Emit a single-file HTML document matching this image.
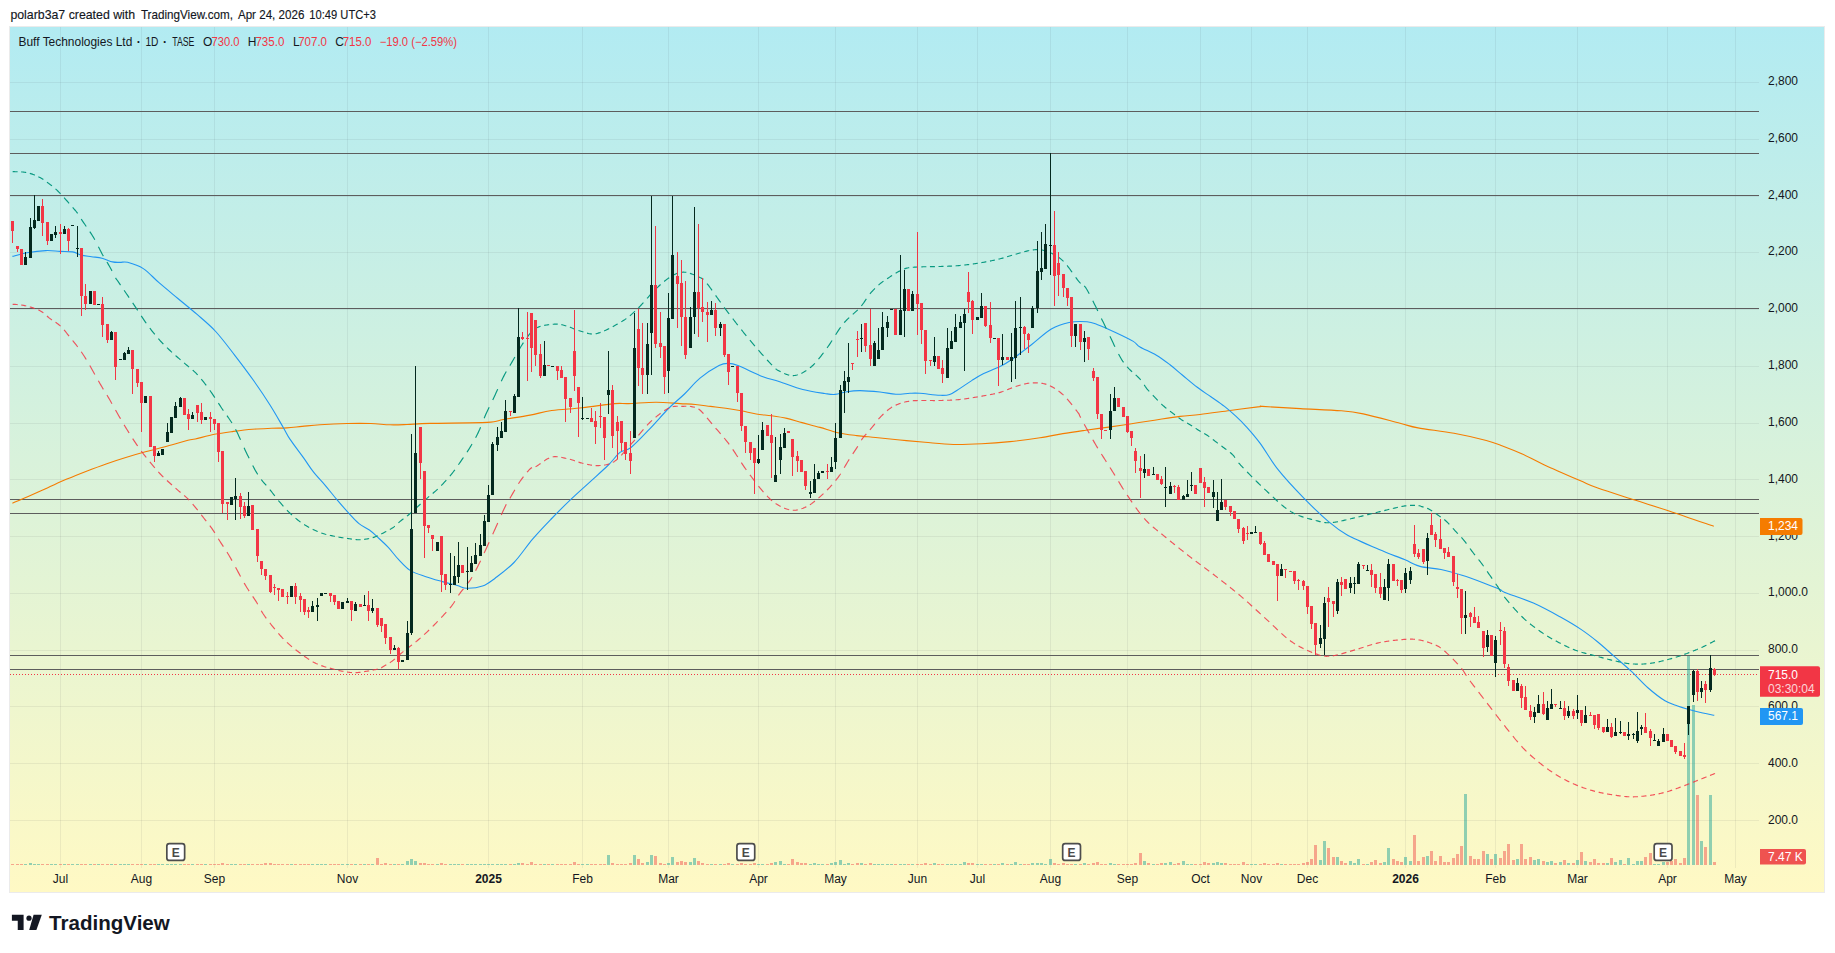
<!DOCTYPE html>
<html><head><meta charset="utf-8"><title>Buff Technologies Ltd chart</title>
<style>html,body{margin:0;padding:0;background:#fff;width:1835px;height:953px;overflow:hidden}</style>
</head><body>
<svg width="1835" height="953" viewBox="0 0 1835 953" style="position:absolute;left:0;top:0"><defs><linearGradient id="bg" x1="0" y1="0" x2="0" y2="1"><stop offset="0" stop-color="#b2ebf2"/><stop offset="1" stop-color="#fff9c4"/></linearGradient><clipPath id="pane"><rect x="10" y="27" width="1749" height="841"/></clipPath></defs><rect x="9.5" y="26.5" width="1815" height="866" fill="none" stroke="rgba(0,0,0,0.08)" stroke-width="1"/><rect x="10" y="27" width="1814" height="865" fill="url(#bg)"/><g stroke="rgba(42,46,57,0.07)" stroke-width="1" shape-rendering="crispEdges"><line x1="10" y1="82.5" x2="1759" y2="82.5"/><line x1="10" y1="139.5" x2="1759" y2="139.5"/><line x1="10" y1="196.5" x2="1759" y2="196.5"/><line x1="10" y1="252.5" x2="1759" y2="252.5"/><line x1="10" y1="309.5" x2="1759" y2="309.5"/><line x1="10" y1="366.5" x2="1759" y2="366.5"/><line x1="10" y1="423.5" x2="1759" y2="423.5"/><line x1="10" y1="479.5" x2="1759" y2="479.5"/><line x1="10" y1="536.5" x2="1759" y2="536.5"/><line x1="10" y1="593.5" x2="1759" y2="593.5"/><line x1="10" y1="650.5" x2="1759" y2="650.5"/><line x1="10" y1="706.5" x2="1759" y2="706.5"/><line x1="10" y1="763.5" x2="1759" y2="763.5"/><line x1="10" y1="820.5" x2="1759" y2="820.5"/><line x1="60.5" y1="27" x2="60.5" y2="868"/><line x1="141.5" y1="27" x2="141.5" y2="868"/><line x1="214.5" y1="27" x2="214.5" y2="868"/><line x1="347.5" y1="27" x2="347.5" y2="868"/><line x1="488.5" y1="27" x2="488.5" y2="868"/><line x1="582.5" y1="27" x2="582.5" y2="868"/><line x1="668.5" y1="27" x2="668.5" y2="868"/><line x1="758.5" y1="27" x2="758.5" y2="868"/><line x1="835.5" y1="27" x2="835.5" y2="868"/><line x1="917.5" y1="27" x2="917.5" y2="868"/><line x1="977.5" y1="27" x2="977.5" y2="868"/><line x1="1050.5" y1="27" x2="1050.5" y2="868"/><line x1="1127.5" y1="27" x2="1127.5" y2="868"/><line x1="1200.5" y1="27" x2="1200.5" y2="868"/><line x1="1251.5" y1="27" x2="1251.5" y2="868"/><line x1="1307.5" y1="27" x2="1307.5" y2="868"/><line x1="1405.5" y1="27" x2="1405.5" y2="868"/><line x1="1495.5" y1="27" x2="1495.5" y2="868"/><line x1="1577.5" y1="27" x2="1577.5" y2="868"/><line x1="1667.5" y1="27" x2="1667.5" y2="868"/><line x1="1735.5" y1="27" x2="1735.5" y2="868"/></g><g stroke="#5d5d5d" stroke-width="1" shape-rendering="crispEdges"><line x1="10" y1="111.5" x2="1759" y2="111.5"/><line x1="10" y1="153.5" x2="1759" y2="153.5"/><line x1="10" y1="195.5" x2="1759" y2="195.5"/><line x1="10" y1="308.5" x2="1759" y2="308.5"/><line x1="10" y1="499.5" x2="1759" y2="499.5"/><line x1="10" y1="513.5" x2="1759" y2="513.5"/><line x1="10" y1="655.5" x2="1759" y2="655.5"/><line x1="10" y1="669.5" x2="1759" y2="669.5"/></g><line x1="10" y1="674.5" x2="1759" y2="674.5" stroke="#f23645" stroke-width="1" stroke-dasharray="1 2" shape-rendering="crispEdges"/><g shape-rendering="crispEdges"><rect x="11" y="864.0" width="3" height="1.0" fill="rgba(239,83,80,0.5)"/><rect x="16" y="864.0" width="3" height="1.0" fill="rgba(239,83,80,0.5)"/><rect x="20" y="864.0" width="3" height="1.0" fill="rgba(239,83,80,0.5)"/><rect x="24" y="864.0" width="3" height="1.0" fill="rgba(38,166,154,0.5)"/><rect x="29" y="863.0" width="3" height="2.0" fill="rgba(38,166,154,0.5)"/><rect x="33" y="864.0" width="3" height="1.0" fill="rgba(38,166,154,0.5)"/><rect x="37" y="864.0" width="3" height="1.0" fill="rgba(38,166,154,0.5)"/><rect x="41" y="864.0" width="3" height="1.0" fill="rgba(239,83,80,0.5)"/><rect x="46" y="864.0" width="3" height="1.0" fill="rgba(239,83,80,0.5)"/><rect x="50" y="864.0" width="3" height="1.0" fill="rgba(38,166,154,0.5)"/><rect x="54" y="864.0" width="3" height="1.0" fill="rgba(38,166,154,0.5)"/><rect x="59" y="864.0" width="3" height="1.0" fill="rgba(239,83,80,0.5)"/><rect x="63" y="864.0" width="3" height="1.0" fill="rgba(38,166,154,0.5)"/><rect x="67" y="864.0" width="3" height="1.0" fill="rgba(239,83,80,0.5)"/><rect x="71" y="864.0" width="3" height="1.0" fill="rgba(38,166,154,0.5)"/><rect x="76" y="864.0" width="3" height="1.0" fill="rgba(38,166,154,0.5)"/><rect x="80" y="864.0" width="3" height="1.0" fill="rgba(239,83,80,0.5)"/><rect x="84" y="864.0" width="3" height="1.0" fill="rgba(239,83,80,0.5)"/><rect x="89" y="864.0" width="3" height="1.0" fill="rgba(38,166,154,0.5)"/><rect x="93" y="864.0" width="3" height="1.0" fill="rgba(239,83,80,0.5)"/><rect x="97" y="864.0" width="3" height="1.0" fill="rgba(38,166,154,0.5)"/><rect x="101" y="864.0" width="3" height="1.0" fill="rgba(239,83,80,0.5)"/><rect x="106" y="864.0" width="3" height="1.0" fill="rgba(239,83,80,0.5)"/><rect x="110" y="864.0" width="3" height="1.0" fill="rgba(38,166,154,0.5)"/><rect x="114" y="864.0" width="3" height="1.0" fill="rgba(239,83,80,0.5)"/><rect x="119" y="864.0" width="3" height="1.0" fill="rgba(38,166,154,0.5)"/><rect x="123" y="864.0" width="3" height="1.0" fill="rgba(38,166,154,0.5)"/><rect x="127" y="864.0" width="3" height="1.0" fill="rgba(38,166,154,0.5)"/><rect x="131" y="864.0" width="3" height="1.0" fill="rgba(239,83,80,0.5)"/><rect x="136" y="864.0" width="3" height="1.0" fill="rgba(239,83,80,0.5)"/><rect x="140" y="864.0" width="3" height="1.0" fill="rgba(239,83,80,0.5)"/><rect x="144" y="864.0" width="3" height="1.0" fill="rgba(38,166,154,0.5)"/><rect x="149" y="864.0" width="3" height="1.0" fill="rgba(239,83,80,0.5)"/><rect x="153" y="864.0" width="3" height="1.0" fill="rgba(239,83,80,0.5)"/><rect x="157" y="864.0" width="3" height="1.0" fill="rgba(38,166,154,0.5)"/><rect x="161" y="864.0" width="3" height="1.0" fill="rgba(38,166,154,0.5)"/><rect x="166" y="864.0" width="3" height="1.0" fill="rgba(38,166,154,0.5)"/><rect x="170" y="864.0" width="3" height="1.0" fill="rgba(38,166,154,0.5)"/><rect x="174" y="864.0" width="3" height="1.0" fill="rgba(38,166,154,0.5)"/><rect x="179" y="864.0" width="3" height="1.0" fill="rgba(38,166,154,0.5)"/><rect x="183" y="864.0" width="3" height="1.0" fill="rgba(239,83,80,0.5)"/><rect x="187" y="864.0" width="3" height="1.0" fill="rgba(239,83,80,0.5)"/><rect x="191" y="864.0" width="3" height="1.0" fill="rgba(38,166,154,0.5)"/><rect x="196" y="864.0" width="3" height="1.0" fill="rgba(239,83,80,0.5)"/><rect x="200" y="864.0" width="3" height="1.0" fill="rgba(239,83,80,0.5)"/><rect x="204" y="864.0" width="3" height="1.0" fill="rgba(38,166,154,0.5)"/><rect x="209" y="864.0" width="3" height="1.0" fill="rgba(239,83,80,0.5)"/><rect x="213" y="864.0" width="3" height="1.0" fill="rgba(239,83,80,0.5)"/><rect x="217" y="864.0" width="3" height="1.0" fill="rgba(239,83,80,0.5)"/><rect x="221" y="863.0" width="3" height="2.0" fill="rgba(239,83,80,0.5)"/><rect x="226" y="864.0" width="3" height="1.0" fill="rgba(239,83,80,0.5)"/><rect x="230" y="864.0" width="3" height="1.0" fill="rgba(38,166,154,0.5)"/><rect x="234" y="864.0" width="3" height="1.0" fill="rgba(38,166,154,0.5)"/><rect x="239" y="864.0" width="3" height="1.0" fill="rgba(239,83,80,0.5)"/><rect x="243" y="864.0" width="3" height="1.0" fill="rgba(239,83,80,0.5)"/><rect x="247" y="864.0" width="3" height="1.0" fill="rgba(38,166,154,0.5)"/><rect x="251" y="864.0" width="3" height="1.0" fill="rgba(239,83,80,0.5)"/><rect x="256" y="864.0" width="3" height="1.0" fill="rgba(239,83,80,0.5)"/><rect x="260" y="864.0" width="3" height="1.0" fill="rgba(239,83,80,0.5)"/><rect x="264" y="863.0" width="3" height="2.0" fill="rgba(239,83,80,0.5)"/><rect x="269" y="863.0" width="3" height="2.0" fill="rgba(239,83,80,0.5)"/><rect x="273" y="864.0" width="3" height="1.0" fill="rgba(239,83,80,0.5)"/><rect x="277" y="864.0" width="3" height="1.0" fill="rgba(239,83,80,0.5)"/><rect x="281" y="864.0" width="3" height="1.0" fill="rgba(239,83,80,0.5)"/><rect x="286" y="864.0" width="3" height="1.0" fill="rgba(239,83,80,0.5)"/><rect x="290" y="864.0" width="3" height="1.0" fill="rgba(38,166,154,0.5)"/><rect x="294" y="864.0" width="3" height="1.0" fill="rgba(239,83,80,0.5)"/><rect x="299" y="864.0" width="3" height="1.0" fill="rgba(239,83,80,0.5)"/><rect x="303" y="864.0" width="3" height="1.0" fill="rgba(239,83,80,0.5)"/><rect x="307" y="864.0" width="3" height="1.0" fill="rgba(239,83,80,0.5)"/><rect x="311" y="864.0" width="3" height="1.0" fill="rgba(38,166,154,0.5)"/><rect x="316" y="864.0" width="3" height="1.0" fill="rgba(38,166,154,0.5)"/><rect x="320" y="864.0" width="3" height="1.0" fill="rgba(38,166,154,0.5)"/><rect x="324" y="864.0" width="3" height="1.0" fill="rgba(38,166,154,0.5)"/><rect x="329" y="864.0" width="3" height="1.0" fill="rgba(239,83,80,0.5)"/><rect x="333" y="864.0" width="3" height="1.0" fill="rgba(239,83,80,0.5)"/><rect x="337" y="864.0" width="3" height="1.0" fill="rgba(239,83,80,0.5)"/><rect x="341" y="864.0" width="3" height="1.0" fill="rgba(38,166,154,0.5)"/><rect x="346" y="864.0" width="3" height="1.0" fill="rgba(38,166,154,0.5)"/><rect x="350" y="864.0" width="3" height="1.0" fill="rgba(239,83,80,0.5)"/><rect x="354" y="864.0" width="3" height="1.0" fill="rgba(38,166,154,0.5)"/><rect x="359" y="864.0" width="3" height="1.0" fill="rgba(239,83,80,0.5)"/><rect x="363" y="864.0" width="3" height="1.0" fill="rgba(38,166,154,0.5)"/><rect x="367" y="864.0" width="3" height="1.0" fill="rgba(239,83,80,0.5)"/><rect x="371" y="864.0" width="3" height="1.0" fill="rgba(38,166,154,0.5)"/><rect x="376" y="858.0" width="3" height="7.0" fill="rgba(239,83,80,0.5)"/><rect x="380" y="864.0" width="3" height="1.0" fill="rgba(239,83,80,0.5)"/><rect x="384" y="863.0" width="3" height="2.0" fill="rgba(239,83,80,0.5)"/><rect x="389" y="864.0" width="3" height="1.0" fill="rgba(239,83,80,0.5)"/><rect x="393" y="864.0" width="3" height="1.0" fill="rgba(38,166,154,0.5)"/><rect x="397" y="864.0" width="3" height="1.0" fill="rgba(239,83,80,0.5)"/><rect x="401" y="864.0" width="3" height="1.0" fill="rgba(38,166,154,0.5)"/><rect x="406" y="861.0" width="3" height="4.0" fill="rgba(38,166,154,0.5)"/><rect x="410" y="859.0" width="3" height="6.0" fill="rgba(38,166,154,0.5)"/><rect x="414" y="861.0" width="3" height="4.0" fill="rgba(38,166,154,0.5)"/><rect x="419" y="863.0" width="3" height="2.0" fill="rgba(239,83,80,0.5)"/><rect x="423" y="863.0" width="3" height="2.0" fill="rgba(239,83,80,0.5)"/><rect x="427" y="864.0" width="3" height="1.0" fill="rgba(239,83,80,0.5)"/><rect x="431" y="864.0" width="3" height="1.0" fill="rgba(239,83,80,0.5)"/><rect x="436" y="864.0" width="3" height="1.0" fill="rgba(38,166,154,0.5)"/><rect x="440" y="863.0" width="3" height="2.0" fill="rgba(239,83,80,0.5)"/><rect x="444" y="864.0" width="3" height="1.0" fill="rgba(239,83,80,0.5)"/><rect x="449" y="864.0" width="3" height="1.0" fill="rgba(38,166,154,0.5)"/><rect x="453" y="864.0" width="3" height="1.0" fill="rgba(38,166,154,0.5)"/><rect x="457" y="864.0" width="3" height="1.0" fill="rgba(38,166,154,0.5)"/><rect x="461" y="864.0" width="3" height="1.0" fill="rgba(239,83,80,0.5)"/><rect x="466" y="864.0" width="3" height="1.0" fill="rgba(38,166,154,0.5)"/><rect x="470" y="864.0" width="3" height="1.0" fill="rgba(38,166,154,0.5)"/><rect x="474" y="864.0" width="3" height="1.0" fill="rgba(38,166,154,0.5)"/><rect x="479" y="864.0" width="3" height="1.0" fill="rgba(38,166,154,0.5)"/><rect x="483" y="864.0" width="3" height="1.0" fill="rgba(38,166,154,0.5)"/><rect x="487" y="864.0" width="3" height="1.0" fill="rgba(38,166,154,0.5)"/><rect x="491" y="864.0" width="3" height="1.0" fill="rgba(38,166,154,0.5)"/><rect x="496" y="864.0" width="3" height="1.0" fill="rgba(38,166,154,0.5)"/><rect x="500" y="864.0" width="3" height="1.0" fill="rgba(38,166,154,0.5)"/><rect x="504" y="864.0" width="3" height="1.0" fill="rgba(38,166,154,0.5)"/><rect x="509" y="864.0" width="3" height="1.0" fill="rgba(239,83,80,0.5)"/><rect x="513" y="864.0" width="3" height="1.0" fill="rgba(38,166,154,0.5)"/><rect x="517" y="863.0" width="3" height="2.0" fill="rgba(38,166,154,0.5)"/><rect x="521" y="863.0" width="3" height="2.0" fill="rgba(239,83,80,0.5)"/><rect x="526" y="864.0" width="3" height="1.0" fill="rgba(239,83,80,0.5)"/><rect x="530" y="862.0" width="3" height="3.0" fill="rgba(239,83,80,0.5)"/><rect x="534" y="864.0" width="3" height="1.0" fill="rgba(239,83,80,0.5)"/><rect x="539" y="864.0" width="3" height="1.0" fill="rgba(239,83,80,0.5)"/><rect x="543" y="864.0" width="3" height="1.0" fill="rgba(38,166,154,0.5)"/><rect x="547" y="864.0" width="3" height="1.0" fill="rgba(239,83,80,0.5)"/><rect x="551" y="864.0" width="3" height="1.0" fill="rgba(38,166,154,0.5)"/><rect x="556" y="864.0" width="3" height="1.0" fill="rgba(239,83,80,0.5)"/><rect x="560" y="864.0" width="3" height="1.0" fill="rgba(239,83,80,0.5)"/><rect x="564" y="864.0" width="3" height="1.0" fill="rgba(239,83,80,0.5)"/><rect x="569" y="864.0" width="3" height="1.0" fill="rgba(239,83,80,0.5)"/><rect x="573" y="862.0" width="3" height="3.0" fill="rgba(239,83,80,0.5)"/><rect x="577" y="864.0" width="3" height="1.0" fill="rgba(239,83,80,0.5)"/><rect x="581" y="864.0" width="3" height="1.0" fill="rgba(38,166,154,0.5)"/><rect x="586" y="864.0" width="3" height="1.0" fill="rgba(38,166,154,0.5)"/><rect x="590" y="864.0" width="3" height="1.0" fill="rgba(239,83,80,0.5)"/><rect x="594" y="864.0" width="3" height="1.0" fill="rgba(239,83,80,0.5)"/><rect x="599" y="864.0" width="3" height="1.0" fill="rgba(239,83,80,0.5)"/><rect x="603" y="864.0" width="3" height="1.0" fill="rgba(239,83,80,0.5)"/><rect x="607" y="855.0" width="3" height="10.0" fill="rgba(38,166,154,0.5)"/><rect x="611" y="863.0" width="3" height="2.0" fill="rgba(239,83,80,0.5)"/><rect x="616" y="864.0" width="3" height="1.0" fill="rgba(239,83,80,0.5)"/><rect x="620" y="864.0" width="3" height="1.0" fill="rgba(239,83,80,0.5)"/><rect x="624" y="864.0" width="3" height="1.0" fill="rgba(239,83,80,0.5)"/><rect x="629" y="863.0" width="3" height="2.0" fill="rgba(239,83,80,0.5)"/><rect x="633" y="855.0" width="3" height="10.0" fill="rgba(38,166,154,0.5)"/><rect x="637" y="859.0" width="3" height="6.0" fill="rgba(239,83,80,0.5)"/><rect x="641" y="863.0" width="3" height="2.0" fill="rgba(239,83,80,0.5)"/><rect x="646" y="862.0" width="3" height="3.0" fill="rgba(38,166,154,0.5)"/><rect x="650" y="855.0" width="3" height="10.0" fill="rgba(38,166,154,0.5)"/><rect x="654" y="856.0" width="3" height="9.0" fill="rgba(239,83,80,0.5)"/><rect x="659" y="863.0" width="3" height="2.0" fill="rgba(239,83,80,0.5)"/><rect x="663" y="864.0" width="3" height="1.0" fill="rgba(239,83,80,0.5)"/><rect x="667" y="863.0" width="3" height="2.0" fill="rgba(38,166,154,0.5)"/><rect x="671" y="857.0" width="3" height="8.0" fill="rgba(38,166,154,0.5)"/><rect x="676" y="862.0" width="3" height="3.0" fill="rgba(239,83,80,0.5)"/><rect x="680" y="861.0" width="3" height="4.0" fill="rgba(239,83,80,0.5)"/><rect x="684" y="862.0" width="3" height="3.0" fill="rgba(239,83,80,0.5)"/><rect x="689" y="862.0" width="3" height="3.0" fill="rgba(38,166,154,0.5)"/><rect x="693" y="858.0" width="3" height="7.0" fill="rgba(38,166,154,0.5)"/><rect x="697" y="861.0" width="3" height="4.0" fill="rgba(239,83,80,0.5)"/><rect x="701" y="863.0" width="3" height="2.0" fill="rgba(239,83,80,0.5)"/><rect x="706" y="864.0" width="3" height="1.0" fill="rgba(239,83,80,0.5)"/><rect x="710" y="864.0" width="3" height="1.0" fill="rgba(38,166,154,0.5)"/><rect x="714" y="864.0" width="3" height="1.0" fill="rgba(239,83,80,0.5)"/><rect x="719" y="864.0" width="3" height="1.0" fill="rgba(38,166,154,0.5)"/><rect x="723" y="864.0" width="3" height="1.0" fill="rgba(239,83,80,0.5)"/><rect x="727" y="863.0" width="3" height="2.0" fill="rgba(239,83,80,0.5)"/><rect x="731" y="864.0" width="3" height="1.0" fill="rgba(38,166,154,0.5)"/><rect x="736" y="864.0" width="3" height="1.0" fill="rgba(239,83,80,0.5)"/><rect x="740" y="863.0" width="3" height="2.0" fill="rgba(239,83,80,0.5)"/><rect x="744" y="864.0" width="3" height="1.0" fill="rgba(239,83,80,0.5)"/><rect x="749" y="864.0" width="3" height="1.0" fill="rgba(239,83,80,0.5)"/><rect x="753" y="863.0" width="3" height="2.0" fill="rgba(239,83,80,0.5)"/><rect x="757" y="864.0" width="3" height="1.0" fill="rgba(38,166,154,0.5)"/><rect x="761" y="864.0" width="3" height="1.0" fill="rgba(38,166,154,0.5)"/><rect x="766" y="864.0" width="3" height="1.0" fill="rgba(239,83,80,0.5)"/><rect x="770" y="863.0" width="3" height="2.0" fill="rgba(239,83,80,0.5)"/><rect x="774" y="862.0" width="3" height="3.0" fill="rgba(38,166,154,0.5)"/><rect x="779" y="861.0" width="3" height="4.0" fill="rgba(38,166,154,0.5)"/><rect x="783" y="864.0" width="3" height="1.0" fill="rgba(38,166,154,0.5)"/><rect x="787" y="864.0" width="3" height="1.0" fill="rgba(239,83,80,0.5)"/><rect x="791" y="859.0" width="3" height="6.0" fill="rgba(239,83,80,0.5)"/><rect x="796" y="862.0" width="3" height="3.0" fill="rgba(239,83,80,0.5)"/><rect x="800" y="863.0" width="3" height="2.0" fill="rgba(239,83,80,0.5)"/><rect x="804" y="863.0" width="3" height="2.0" fill="rgba(239,83,80,0.5)"/><rect x="809" y="864.0" width="3" height="1.0" fill="rgba(38,166,154,0.5)"/><rect x="813" y="863.0" width="3" height="2.0" fill="rgba(38,166,154,0.5)"/><rect x="817" y="864.0" width="3" height="1.0" fill="rgba(38,166,154,0.5)"/><rect x="821" y="864.0" width="3" height="1.0" fill="rgba(38,166,154,0.5)"/><rect x="826" y="864.0" width="3" height="1.0" fill="rgba(239,83,80,0.5)"/><rect x="830" y="863.0" width="3" height="2.0" fill="rgba(38,166,154,0.5)"/><rect x="834" y="862.0" width="3" height="3.0" fill="rgba(38,166,154,0.5)"/><rect x="839" y="860.0" width="3" height="5.0" fill="rgba(38,166,154,0.5)"/><rect x="843" y="864.0" width="3" height="1.0" fill="rgba(38,166,154,0.5)"/><rect x="847" y="863.0" width="3" height="2.0" fill="rgba(38,166,154,0.5)"/><rect x="851" y="864.0" width="3" height="1.0" fill="rgba(239,83,80,0.5)"/><rect x="856" y="863.0" width="3" height="2.0" fill="rgba(239,83,80,0.5)"/><rect x="860" y="863.0" width="3" height="2.0" fill="rgba(38,166,154,0.5)"/><rect x="864" y="864.0" width="3" height="1.0" fill="rgba(239,83,80,0.5)"/><rect x="869" y="863.0" width="3" height="2.0" fill="rgba(239,83,80,0.5)"/><rect x="873" y="864.0" width="3" height="1.0" fill="rgba(38,166,154,0.5)"/><rect x="877" y="864.0" width="3" height="1.0" fill="rgba(38,166,154,0.5)"/><rect x="881" y="864.0" width="3" height="1.0" fill="rgba(38,166,154,0.5)"/><rect x="886" y="864.0" width="3" height="1.0" fill="rgba(38,166,154,0.5)"/><rect x="890" y="864.0" width="3" height="1.0" fill="rgba(38,166,154,0.5)"/><rect x="894" y="864.0" width="3" height="1.0" fill="rgba(239,83,80,0.5)"/><rect x="899" y="864.0" width="3" height="1.0" fill="rgba(38,166,154,0.5)"/><rect x="903" y="864.0" width="3" height="1.0" fill="rgba(38,166,154,0.5)"/><rect x="907" y="864.0" width="3" height="1.0" fill="rgba(239,83,80,0.5)"/><rect x="911" y="864.0" width="3" height="1.0" fill="rgba(38,166,154,0.5)"/><rect x="916" y="864.0" width="3" height="1.0" fill="rgba(239,83,80,0.5)"/><rect x="920" y="864.0" width="3" height="1.0" fill="rgba(239,83,80,0.5)"/><rect x="924" y="863.0" width="3" height="2.0" fill="rgba(239,83,80,0.5)"/><rect x="929" y="864.0" width="3" height="1.0" fill="rgba(239,83,80,0.5)"/><rect x="933" y="863.0" width="3" height="2.0" fill="rgba(38,166,154,0.5)"/><rect x="937" y="864.0" width="3" height="1.0" fill="rgba(239,83,80,0.5)"/><rect x="941" y="864.0" width="3" height="1.0" fill="rgba(239,83,80,0.5)"/><rect x="946" y="864.0" width="3" height="1.0" fill="rgba(38,166,154,0.5)"/><rect x="950" y="864.0" width="3" height="1.0" fill="rgba(38,166,154,0.5)"/><rect x="954" y="864.0" width="3" height="1.0" fill="rgba(38,166,154,0.5)"/><rect x="959" y="864.0" width="3" height="1.0" fill="rgba(38,166,154,0.5)"/><rect x="963" y="862.0" width="3" height="3.0" fill="rgba(38,166,154,0.5)"/><rect x="967" y="863.0" width="3" height="2.0" fill="rgba(239,83,80,0.5)"/><rect x="971" y="863.0" width="3" height="2.0" fill="rgba(239,83,80,0.5)"/><rect x="976" y="864.0" width="3" height="1.0" fill="rgba(38,166,154,0.5)"/><rect x="980" y="864.0" width="3" height="1.0" fill="rgba(38,166,154,0.5)"/><rect x="984" y="864.0" width="3" height="1.0" fill="rgba(239,83,80,0.5)"/><rect x="989" y="864.0" width="3" height="1.0" fill="rgba(239,83,80,0.5)"/><rect x="993" y="864.0" width="3" height="1.0" fill="rgba(38,166,154,0.5)"/><rect x="997" y="864.0" width="3" height="1.0" fill="rgba(239,83,80,0.5)"/><rect x="1001" y="863.0" width="3" height="2.0" fill="rgba(38,166,154,0.5)"/><rect x="1006" y="864.0" width="3" height="1.0" fill="rgba(239,83,80,0.5)"/><rect x="1010" y="864.0" width="3" height="1.0" fill="rgba(38,166,154,0.5)"/><rect x="1014" y="862.0" width="3" height="3.0" fill="rgba(38,166,154,0.5)"/><rect x="1019" y="864.0" width="3" height="1.0" fill="rgba(38,166,154,0.5)"/><rect x="1023" y="864.0" width="3" height="1.0" fill="rgba(239,83,80,0.5)"/><rect x="1027" y="864.0" width="3" height="1.0" fill="rgba(239,83,80,0.5)"/><rect x="1031" y="863.0" width="3" height="2.0" fill="rgba(38,166,154,0.5)"/><rect x="1036" y="863.0" width="3" height="2.0" fill="rgba(38,166,154,0.5)"/><rect x="1040" y="863.0" width="3" height="2.0" fill="rgba(38,166,154,0.5)"/><rect x="1044" y="864.0" width="3" height="1.0" fill="rgba(38,166,154,0.5)"/><rect x="1049" y="859.0" width="3" height="6.0" fill="rgba(38,166,154,0.5)"/><rect x="1053" y="863.0" width="3" height="2.0" fill="rgba(239,83,80,0.5)"/><rect x="1057" y="864.0" width="3" height="1.0" fill="rgba(239,83,80,0.5)"/><rect x="1062" y="863.0" width="3" height="2.0" fill="rgba(239,83,80,0.5)"/><rect x="1066" y="864.0" width="3" height="1.0" fill="rgba(239,83,80,0.5)"/><rect x="1070" y="864.0" width="3" height="1.0" fill="rgba(239,83,80,0.5)"/><rect x="1074" y="864.0" width="3" height="1.0" fill="rgba(38,166,154,0.5)"/><rect x="1079" y="864.0" width="3" height="1.0" fill="rgba(239,83,80,0.5)"/><rect x="1083" y="863.0" width="3" height="2.0" fill="rgba(38,166,154,0.5)"/><rect x="1087" y="864.0" width="3" height="1.0" fill="rgba(239,83,80,0.5)"/><rect x="1092" y="863.0" width="3" height="2.0" fill="rgba(239,83,80,0.5)"/><rect x="1096" y="862.0" width="3" height="3.0" fill="rgba(239,83,80,0.5)"/><rect x="1100" y="864.0" width="3" height="1.0" fill="rgba(239,83,80,0.5)"/><rect x="1104" y="864.0" width="3" height="1.0" fill="rgba(239,83,80,0.5)"/><rect x="1109" y="863.0" width="3" height="2.0" fill="rgba(38,166,154,0.5)"/><rect x="1113" y="864.0" width="3" height="1.0" fill="rgba(38,166,154,0.5)"/><rect x="1117" y="864.0" width="3" height="1.0" fill="rgba(239,83,80,0.5)"/><rect x="1122" y="864.0" width="3" height="1.0" fill="rgba(239,83,80,0.5)"/><rect x="1126" y="864.0" width="3" height="1.0" fill="rgba(239,83,80,0.5)"/><rect x="1130" y="864.0" width="3" height="1.0" fill="rgba(239,83,80,0.5)"/><rect x="1134" y="863.0" width="3" height="2.0" fill="rgba(239,83,80,0.5)"/><rect x="1139" y="853.0" width="3" height="12.0" fill="rgba(239,83,80,0.5)"/><rect x="1143" y="861.0" width="3" height="4.0" fill="rgba(38,166,154,0.5)"/><rect x="1147" y="863.0" width="3" height="2.0" fill="rgba(239,83,80,0.5)"/><rect x="1152" y="864.0" width="3" height="1.0" fill="rgba(38,166,154,0.5)"/><rect x="1156" y="864.0" width="3" height="1.0" fill="rgba(239,83,80,0.5)"/><rect x="1160" y="863.0" width="3" height="2.0" fill="rgba(239,83,80,0.5)"/><rect x="1164" y="863.0" width="3" height="2.0" fill="rgba(38,166,154,0.5)"/><rect x="1169" y="862.0" width="3" height="3.0" fill="rgba(38,166,154,0.5)"/><rect x="1173" y="864.0" width="3" height="1.0" fill="rgba(239,83,80,0.5)"/><rect x="1177" y="863.0" width="3" height="2.0" fill="rgba(239,83,80,0.5)"/><rect x="1182" y="861.0" width="3" height="4.0" fill="rgba(38,166,154,0.5)"/><rect x="1186" y="864.0" width="3" height="1.0" fill="rgba(38,166,154,0.5)"/><rect x="1190" y="864.0" width="3" height="1.0" fill="rgba(38,166,154,0.5)"/><rect x="1194" y="864.0" width="3" height="1.0" fill="rgba(239,83,80,0.5)"/><rect x="1199" y="864.0" width="3" height="1.0" fill="rgba(239,83,80,0.5)"/><rect x="1203" y="862.0" width="3" height="3.0" fill="rgba(239,83,80,0.5)"/><rect x="1207" y="863.0" width="3" height="2.0" fill="rgba(239,83,80,0.5)"/><rect x="1212" y="863.0" width="3" height="2.0" fill="rgba(38,166,154,0.5)"/><rect x="1216" y="862.0" width="3" height="3.0" fill="rgba(38,166,154,0.5)"/><rect x="1220" y="863.0" width="3" height="2.0" fill="rgba(38,166,154,0.5)"/><rect x="1224" y="863.0" width="3" height="2.0" fill="rgba(239,83,80,0.5)"/><rect x="1229" y="864.0" width="3" height="1.0" fill="rgba(239,83,80,0.5)"/><rect x="1233" y="864.0" width="3" height="1.0" fill="rgba(239,83,80,0.5)"/><rect x="1237" y="864.0" width="3" height="1.0" fill="rgba(239,83,80,0.5)"/><rect x="1242" y="862.0" width="3" height="3.0" fill="rgba(239,83,80,0.5)"/><rect x="1246" y="864.0" width="3" height="1.0" fill="rgba(239,83,80,0.5)"/><rect x="1250" y="864.0" width="3" height="1.0" fill="rgba(38,166,154,0.5)"/><rect x="1254" y="864.0" width="3" height="1.0" fill="rgba(38,166,154,0.5)"/><rect x="1259" y="864.0" width="3" height="1.0" fill="rgba(239,83,80,0.5)"/><rect x="1263" y="863.0" width="3" height="2.0" fill="rgba(239,83,80,0.5)"/><rect x="1267" y="864.0" width="3" height="1.0" fill="rgba(239,83,80,0.5)"/><rect x="1272" y="864.0" width="3" height="1.0" fill="rgba(239,83,80,0.5)"/><rect x="1276" y="863.0" width="3" height="2.0" fill="rgba(239,83,80,0.5)"/><rect x="1280" y="864.0" width="3" height="1.0" fill="rgba(38,166,154,0.5)"/><rect x="1284" y="864.0" width="3" height="1.0" fill="rgba(239,83,80,0.5)"/><rect x="1289" y="864.0" width="3" height="1.0" fill="rgba(239,83,80,0.5)"/><rect x="1293" y="864.0" width="3" height="1.0" fill="rgba(239,83,80,0.5)"/><rect x="1297" y="864.0" width="3" height="1.0" fill="rgba(239,83,80,0.5)"/><rect x="1302" y="863.0" width="3" height="2.0" fill="rgba(239,83,80,0.5)"/><rect x="1306" y="862.0" width="3" height="3.0" fill="rgba(239,83,80,0.5)"/><rect x="1310" y="859.0" width="3" height="6.0" fill="rgba(239,83,80,0.5)"/><rect x="1314" y="845.0" width="3" height="20.0" fill="rgba(239,83,80,0.5)"/><rect x="1319" y="860.0" width="3" height="5.0" fill="rgba(38,166,154,0.5)"/><rect x="1323" y="841.0" width="3" height="24.0" fill="rgba(38,166,154,0.5)"/><rect x="1327" y="848.0" width="3" height="17.0" fill="rgba(239,83,80,0.5)"/><rect x="1332" y="857.0" width="3" height="8.0" fill="rgba(239,83,80,0.5)"/><rect x="1336" y="857.0" width="3" height="8.0" fill="rgba(38,166,154,0.5)"/><rect x="1340" y="861.0" width="3" height="4.0" fill="rgba(239,83,80,0.5)"/><rect x="1344" y="863.0" width="3" height="2.0" fill="rgba(239,83,80,0.5)"/><rect x="1349" y="861.0" width="3" height="4.0" fill="rgba(38,166,154,0.5)"/><rect x="1353" y="863.0" width="3" height="2.0" fill="rgba(38,166,154,0.5)"/><rect x="1357" y="859.0" width="3" height="6.0" fill="rgba(38,166,154,0.5)"/><rect x="1362" y="864.0" width="3" height="1.0" fill="rgba(239,83,80,0.5)"/><rect x="1366" y="864.0" width="3" height="1.0" fill="rgba(38,166,154,0.5)"/><rect x="1370" y="862.0" width="3" height="3.0" fill="rgba(239,83,80,0.5)"/><rect x="1374" y="860.0" width="3" height="5.0" fill="rgba(239,83,80,0.5)"/><rect x="1379" y="863.0" width="3" height="2.0" fill="rgba(239,83,80,0.5)"/><rect x="1383" y="862.0" width="3" height="3.0" fill="rgba(38,166,154,0.5)"/><rect x="1387" y="848.0" width="3" height="17.0" fill="rgba(38,166,154,0.5)"/><rect x="1392" y="859.0" width="3" height="6.0" fill="rgba(239,83,80,0.5)"/><rect x="1396" y="861.0" width="3" height="4.0" fill="rgba(239,83,80,0.5)"/><rect x="1400" y="862.0" width="3" height="3.0" fill="rgba(239,83,80,0.5)"/><rect x="1404" y="857.0" width="3" height="8.0" fill="rgba(38,166,154,0.5)"/><rect x="1409" y="861.0" width="3" height="4.0" fill="rgba(38,166,154,0.5)"/><rect x="1413" y="835.0" width="3" height="30.0" fill="rgba(239,83,80,0.5)"/><rect x="1417" y="861.0" width="3" height="4.0" fill="rgba(239,83,80,0.5)"/><rect x="1422" y="857.0" width="3" height="8.0" fill="rgba(239,83,80,0.5)"/><rect x="1426" y="856.0" width="3" height="9.0" fill="rgba(38,166,154,0.5)"/><rect x="1430" y="851.0" width="3" height="14.0" fill="rgba(239,83,80,0.5)"/><rect x="1434" y="861.0" width="3" height="4.0" fill="rgba(239,83,80,0.5)"/><rect x="1439" y="856.0" width="3" height="9.0" fill="rgba(239,83,80,0.5)"/><rect x="1443" y="862.0" width="3" height="3.0" fill="rgba(239,83,80,0.5)"/><rect x="1447" y="862.0" width="3" height="3.0" fill="rgba(239,83,80,0.5)"/><rect x="1452" y="858.0" width="3" height="7.0" fill="rgba(239,83,80,0.5)"/><rect x="1456" y="854.0" width="3" height="11.0" fill="rgba(239,83,80,0.5)"/><rect x="1460" y="846.0" width="3" height="19.0" fill="rgba(239,83,80,0.5)"/><rect x="1464" y="794.0" width="3" height="71.0" fill="rgba(38,166,154,0.5)"/><rect x="1469" y="856.0" width="3" height="9.0" fill="rgba(239,83,80,0.5)"/><rect x="1473" y="859.0" width="3" height="6.0" fill="rgba(239,83,80,0.5)"/><rect x="1477" y="859.0" width="3" height="6.0" fill="rgba(239,83,80,0.5)"/><rect x="1482" y="851.0" width="3" height="14.0" fill="rgba(239,83,80,0.5)"/><rect x="1486" y="854.0" width="3" height="11.0" fill="rgba(38,166,154,0.5)"/><rect x="1490" y="859.0" width="3" height="6.0" fill="rgba(239,83,80,0.5)"/><rect x="1494" y="854.0" width="3" height="11.0" fill="rgba(38,166,154,0.5)"/><rect x="1499" y="858.0" width="3" height="7.0" fill="rgba(239,83,80,0.5)"/><rect x="1503" y="851.0" width="3" height="14.0" fill="rgba(239,83,80,0.5)"/><rect x="1507" y="844.0" width="3" height="21.0" fill="rgba(239,83,80,0.5)"/><rect x="1512" y="860.0" width="3" height="5.0" fill="rgba(239,83,80,0.5)"/><rect x="1516" y="859.0" width="3" height="6.0" fill="rgba(38,166,154,0.5)"/><rect x="1520" y="844.0" width="3" height="21.0" fill="rgba(239,83,80,0.5)"/><rect x="1524" y="859.0" width="3" height="6.0" fill="rgba(239,83,80,0.5)"/><rect x="1529" y="857.0" width="3" height="8.0" fill="rgba(239,83,80,0.5)"/><rect x="1533" y="860.0" width="3" height="5.0" fill="rgba(38,166,154,0.5)"/><rect x="1537" y="859.0" width="3" height="6.0" fill="rgba(38,166,154,0.5)"/><rect x="1542" y="861.0" width="3" height="4.0" fill="rgba(239,83,80,0.5)"/><rect x="1546" y="862.0" width="3" height="3.0" fill="rgba(38,166,154,0.5)"/><rect x="1550" y="861.0" width="3" height="4.0" fill="rgba(38,166,154,0.5)"/><rect x="1554" y="863.0" width="3" height="2.0" fill="rgba(239,83,80,0.5)"/><rect x="1559" y="862.0" width="3" height="3.0" fill="rgba(38,166,154,0.5)"/><rect x="1563" y="860.0" width="3" height="5.0" fill="rgba(239,83,80,0.5)"/><rect x="1567" y="863.0" width="3" height="2.0" fill="rgba(38,166,154,0.5)"/><rect x="1572" y="863.0" width="3" height="2.0" fill="rgba(239,83,80,0.5)"/><rect x="1576" y="860.0" width="3" height="5.0" fill="rgba(38,166,154,0.5)"/><rect x="1580" y="852.0" width="3" height="13.0" fill="rgba(239,83,80,0.5)"/><rect x="1584" y="861.0" width="3" height="4.0" fill="rgba(38,166,154,0.5)"/><rect x="1589" y="862.0" width="3" height="3.0" fill="rgba(239,83,80,0.5)"/><rect x="1593" y="859.0" width="3" height="6.0" fill="rgba(239,83,80,0.5)"/><rect x="1597" y="863.0" width="3" height="2.0" fill="rgba(239,83,80,0.5)"/><rect x="1602" y="863.0" width="3" height="2.0" fill="rgba(239,83,80,0.5)"/><rect x="1606" y="863.0" width="3" height="2.0" fill="rgba(38,166,154,0.5)"/><rect x="1610" y="858.0" width="3" height="7.0" fill="rgba(239,83,80,0.5)"/><rect x="1614" y="862.0" width="3" height="3.0" fill="rgba(38,166,154,0.5)"/><rect x="1619" y="860.0" width="3" height="5.0" fill="rgba(38,166,154,0.5)"/><rect x="1623" y="864.0" width="3" height="1.0" fill="rgba(239,83,80,0.5)"/><rect x="1627" y="858.0" width="3" height="7.0" fill="rgba(38,166,154,0.5)"/><rect x="1632" y="864.0" width="3" height="1.0" fill="rgba(38,166,154,0.5)"/><rect x="1636" y="861.0" width="3" height="4.0" fill="rgba(38,166,154,0.5)"/><rect x="1640" y="861.0" width="3" height="4.0" fill="rgba(38,166,154,0.5)"/><rect x="1644" y="857.0" width="3" height="8.0" fill="rgba(239,83,80,0.5)"/><rect x="1649" y="853.0" width="3" height="12.0" fill="rgba(239,83,80,0.5)"/><rect x="1653" y="864.0" width="3" height="1.0" fill="rgba(38,166,154,0.5)"/><rect x="1657" y="864.0" width="3" height="1.0" fill="rgba(38,166,154,0.5)"/><rect x="1662" y="862.0" width="3" height="3.0" fill="rgba(38,166,154,0.5)"/><rect x="1666" y="862.0" width="3" height="3.0" fill="rgba(239,83,80,0.5)"/><rect x="1670" y="861.0" width="3" height="4.0" fill="rgba(239,83,80,0.5)"/><rect x="1674" y="859.0" width="3" height="6.0" fill="rgba(239,83,80,0.5)"/><rect x="1679" y="863.0" width="3" height="2.0" fill="rgba(239,83,80,0.5)"/><rect x="1683" y="858.0" width="3" height="7.0" fill="rgba(239,83,80,0.5)"/><rect x="1687" y="655.5" width="3" height="209.5" fill="rgba(38,166,154,0.5)"/><rect x="1692" y="705.0" width="3" height="160.0" fill="rgba(38,166,154,0.5)"/><rect x="1696" y="795.0" width="3" height="70.0" fill="rgba(239,83,80,0.5)"/><rect x="1700" y="841.0" width="3" height="24.0" fill="rgba(38,166,154,0.5)"/><rect x="1704" y="847.0" width="3" height="18.0" fill="rgba(239,83,80,0.5)"/><rect x="1709" y="795.0" width="3" height="70.0" fill="rgba(38,166,154,0.5)"/><rect x="1713" y="862.0" width="3" height="3.0" fill="rgba(239,83,80,0.5)"/></g><g fill="none" stroke-linejoin="round" clip-path="url(#pane)"><path d="M12.40,503.20C14.93,502.12 21.78,499.25 27.60,496.70C33.42,494.15 40.75,490.83 47.30,487.90C53.85,484.97 60.37,481.88 66.90,479.10C73.43,476.32 79.97,473.73 86.50,471.20C93.03,468.67 99.55,466.18 106.10,463.90C112.65,461.62 119.25,459.52 125.80,457.50C132.35,455.48 138.87,453.60 145.40,451.80C151.93,450.00 157.90,448.62 165.00,446.70C172.10,444.78 182.95,441.58 188.00,440.30C193.05,439.02 190.90,440.00 195.30,439.00C199.70,438.00 208.05,435.57 214.40,434.30C220.75,433.03 227.05,432.25 233.40,431.40C239.75,430.55 246.13,429.72 252.50,429.20C258.87,428.68 265.87,428.52 271.60,428.30C277.33,428.08 281.82,428.22 286.90,427.90C291.98,427.58 296.58,426.93 302.10,426.40C307.62,425.87 312.48,425.18 320.00,424.70C327.52,424.22 338.75,423.70 347.20,423.50C355.65,423.30 363.57,423.28 370.70,423.50C377.83,423.72 383.95,424.63 390.00,424.80C396.05,424.97 400.33,424.73 407.00,424.50C413.67,424.27 416.62,423.75 430.00,423.40C443.38,423.05 475.07,423.05 487.30,422.40C499.53,421.75 496.28,420.72 503.40,419.50C510.52,418.28 521.95,416.60 530.00,415.10C538.05,413.60 542.97,411.73 551.70,410.50C560.43,409.27 571.90,408.85 582.40,407.70C592.90,406.55 607.00,404.28 614.70,403.60C622.40,402.92 621.72,403.83 628.60,403.60C635.48,403.37 647.43,402.20 656.00,402.20C664.57,402.20 673.45,403.22 680.00,403.60C686.55,403.98 690.22,404.03 695.30,404.50C700.38,404.97 705.42,405.77 710.50,406.40C715.58,407.03 720.70,407.57 725.80,408.30C730.90,409.03 736.02,409.85 741.10,410.80C746.18,411.75 751.22,413.17 756.30,414.00C761.38,414.83 766.50,415.07 771.60,415.80C776.70,416.53 781.82,417.27 786.90,418.40C791.98,419.53 796.58,421.10 802.10,422.60C807.62,424.10 814.05,425.72 820.00,427.40C825.95,429.08 831.68,431.33 837.80,432.70C843.92,434.07 850.40,434.80 856.70,435.60C863.00,436.40 868.38,436.77 875.60,437.50C882.82,438.23 891.77,439.20 900.00,440.00C908.23,440.80 916.12,441.55 925.00,442.30C933.88,443.05 943.85,444.25 953.30,444.50C962.75,444.75 972.25,444.28 981.70,443.80C991.15,443.32 1000.28,442.60 1010.00,441.60C1019.72,440.60 1031.18,439.13 1040.00,437.80C1048.82,436.47 1055.27,434.87 1062.90,433.60C1070.53,432.33 1078.17,431.28 1085.80,430.20C1093.43,429.12 1101.07,428.18 1108.70,427.10C1116.33,426.02 1123.97,424.85 1131.60,423.70C1139.23,422.55 1146.43,421.42 1154.50,420.20C1162.57,418.98 1172.42,417.35 1180.00,416.40C1187.58,415.45 1191.67,415.48 1200.00,414.50C1208.33,413.52 1220.00,411.82 1230.00,410.50C1240.00,409.18 1254.58,407.28 1260.00,406.60C1265.42,405.92 1255.78,406.07 1262.50,406.40C1269.22,406.73 1287.18,407.87 1300.30,408.60C1313.42,409.33 1330.72,409.92 1341.20,410.80C1351.68,411.68 1353.40,411.82 1363.20,413.90C1373.00,415.98 1390.87,420.97 1400.00,423.30C1409.13,425.63 1409.00,426.23 1418.00,427.90C1427.00,429.57 1442.62,431.20 1454.00,433.30C1465.38,435.40 1478.22,438.40 1486.30,440.50C1494.38,442.60 1496.50,443.65 1502.50,445.90C1508.50,448.15 1515.40,450.87 1522.30,454.00C1529.20,457.13 1534.30,460.27 1543.90,464.70C1553.50,469.13 1570.92,476.70 1579.90,480.60C1588.88,484.50 1588.82,484.90 1597.80,488.10C1606.78,491.30 1621.80,495.95 1633.80,499.80C1645.80,503.65 1656.47,506.78 1669.80,511.20C1683.13,515.62 1706.47,523.78 1713.80,526.30" stroke="#f57c00" stroke-width="1.1"/><path d="M12.40,256.40C14.82,255.80 21.33,253.77 26.90,252.80C32.47,251.83 40.28,250.83 45.80,250.60C51.32,250.37 55.53,251.18 60.00,251.40C64.47,251.62 69.10,251.28 72.60,251.90C76.10,252.52 77.85,254.30 81.00,255.10C84.15,255.90 88.00,256.18 91.50,256.70C95.00,257.22 98.50,257.33 102.00,258.20C105.50,259.07 109.50,261.20 112.50,261.90C115.50,262.60 117.48,262.33 120.00,262.40C122.52,262.47 123.72,261.27 127.60,262.30C131.48,263.33 138.07,265.20 143.30,268.60C148.53,272.00 153.23,277.72 159.00,282.70C164.77,287.68 171.60,293.25 177.90,298.50C184.20,303.75 190.50,308.70 196.80,314.20C203.10,319.70 209.40,324.68 215.70,331.50C222.00,338.32 228.32,346.97 234.60,355.10C240.88,363.23 247.50,371.98 253.40,380.30C259.30,388.62 265.00,397.10 270.00,405.00C275.00,412.90 280.05,421.97 283.40,427.70C286.75,433.43 286.73,434.37 290.10,439.40C293.47,444.43 299.68,452.43 303.60,457.90C307.52,463.37 309.97,467.58 313.60,472.20C317.23,476.82 321.48,480.98 325.40,485.60C329.32,490.22 333.18,495.28 337.10,499.90C341.02,504.52 345.25,509.35 348.90,513.30C352.55,517.25 355.58,520.82 359.00,523.60C362.42,526.38 366.40,527.83 369.40,530.00C372.40,532.17 373.85,533.70 377.00,536.60C380.15,539.50 384.68,543.55 388.30,547.40C391.92,551.25 395.07,555.87 398.70,559.70C402.33,563.53 405.57,567.57 410.10,570.40C414.63,573.23 420.65,574.87 425.90,576.70C431.15,578.53 436.37,579.93 441.60,581.40C446.83,582.87 453.10,584.35 457.30,585.50C461.50,586.65 462.60,588.20 466.80,588.30C471.00,588.40 477.78,587.78 482.50,586.10C487.22,584.42 489.85,582.13 495.10,578.20C500.35,574.27 507.72,569.05 514.00,562.50C520.28,555.95 526.52,546.23 532.80,538.90C539.08,531.57 545.40,525.05 551.70,518.50C558.00,511.95 564.30,505.63 570.60,499.60C576.90,493.57 583.20,488.07 589.50,482.30C595.80,476.53 603.32,469.98 608.40,465.00C613.48,460.02 616.23,455.32 620.00,452.40C623.77,449.48 626.00,451.47 631.00,447.50C636.00,443.53 643.67,435.18 650.00,428.60C656.33,422.02 663.25,413.77 669.00,408.00C674.75,402.23 679.33,398.97 684.50,394.00C689.67,389.03 694.25,382.93 700.00,378.20C705.75,373.47 714.23,368.07 719.00,365.60C723.77,363.13 725.43,363.40 728.60,363.40C731.77,363.40 732.27,363.38 738.00,365.60C743.73,367.82 756.17,374.07 763.00,376.70C769.83,379.33 772.37,379.27 779.00,381.40C785.63,383.53 795.17,387.48 802.80,389.50C810.43,391.52 819.42,392.68 824.80,393.50C830.18,394.32 831.43,394.70 835.10,394.40C838.77,394.10 842.65,392.33 846.80,391.70C850.95,391.07 854.47,390.55 860.00,390.60C865.53,390.65 874.02,391.38 880.00,392.00C885.98,392.62 890.92,394.08 895.90,394.30C900.88,394.52 905.92,393.47 909.90,393.30C913.88,393.13 914.82,392.97 919.80,393.30C924.78,393.63 934.82,395.10 939.80,395.30C944.78,395.50 946.38,395.62 949.70,394.50C953.02,393.38 956.03,390.92 959.70,388.60C963.37,386.28 967.70,383.10 971.70,380.60C975.70,378.10 978.98,375.93 983.70,373.60C988.42,371.27 995.13,369.08 1000.00,366.60C1004.87,364.12 1007.62,362.38 1012.90,358.70C1018.18,355.02 1025.30,349.45 1031.70,344.50C1038.10,339.55 1045.07,332.67 1051.30,329.00C1057.53,325.33 1063.15,323.70 1069.10,322.50C1075.05,321.30 1082.25,321.43 1087.00,321.80C1091.75,322.17 1092.85,322.92 1097.60,324.70C1102.35,326.48 1109.55,329.72 1115.50,332.50C1121.45,335.28 1129.22,338.98 1133.30,341.40C1137.38,343.82 1136.15,344.70 1140.00,347.00C1143.85,349.30 1151.40,352.23 1156.40,355.20C1161.40,358.17 1165.68,361.50 1170.00,364.80C1174.32,368.10 1177.75,371.25 1182.30,375.00C1186.85,378.75 1192.53,383.67 1197.30,387.30C1202.07,390.93 1206.37,393.62 1210.90,396.80C1215.43,399.98 1220.40,403.22 1224.50,406.40C1228.60,409.58 1231.85,412.50 1235.50,415.90C1239.15,419.30 1242.32,422.25 1246.40,426.80C1250.48,431.35 1254.65,435.97 1260.00,443.20C1265.35,450.43 1271.23,461.08 1278.50,470.20C1285.77,479.32 1295.22,489.30 1303.60,497.90C1311.98,506.50 1321.67,515.72 1328.80,521.80C1335.93,527.88 1338.00,529.78 1346.40,534.40C1354.80,539.02 1369.53,545.30 1379.20,549.50C1388.87,553.70 1397.60,556.78 1404.40,559.60C1411.20,562.42 1413.90,564.75 1420.00,566.40C1426.10,568.05 1434.00,568.02 1441.00,569.50C1448.00,570.98 1455.00,573.10 1462.00,575.30C1469.00,577.50 1476.67,580.33 1483.00,582.70C1489.33,585.07 1496.35,587.88 1500.00,589.50C1503.65,591.12 1499.33,590.13 1504.90,592.40C1510.47,594.67 1524.22,599.03 1533.40,603.10C1542.58,607.17 1552.07,612.42 1560.00,616.80C1567.93,621.18 1574.70,625.20 1581.00,629.40C1587.30,633.60 1592.20,637.45 1597.80,642.00C1603.40,646.55 1609.00,651.80 1614.60,656.70C1620.20,661.60 1625.80,666.18 1631.40,671.40C1637.00,676.62 1642.60,683.10 1648.20,688.00C1653.80,692.90 1660.10,697.80 1665.00,700.80C1669.90,703.80 1673.77,704.60 1677.60,706.00C1681.43,707.40 1683.80,708.03 1688.00,709.20C1692.20,710.37 1698.42,711.98 1702.80,713.00C1707.18,714.02 1712.38,714.92 1714.30,715.30" stroke="#2196f3" stroke-width="1.1"/><path d="M12.66,171.62 L13.49,171.65 L14.33,171.67 L15.16,171.70 L15.99,171.72 L16.83,171.74 L17.66,171.76M21.23,171.93 L22.07,171.98 L22.90,172.05 L23.73,172.13 L24.57,172.23 L25.40,172.34 L26.23,172.47M29.81,173.34 L30.64,173.60 L31.47,173.87 L32.31,174.16 L33.14,174.47 L33.97,174.80 L34.81,175.14M38.38,176.75 L39.21,177.16 L40.04,177.58 L40.88,178.03 L41.71,178.51 L42.54,179.02 L43.38,179.55M46.95,182.12 L47.78,182.75 L48.62,183.39 L49.45,184.01 L50.28,184.64 L51.12,185.26 L51.95,185.90M55.52,188.86 L56.36,189.62 L57.19,190.41 L58.02,191.23 L58.86,192.06 L59.69,192.93 L60.52,193.81M64.10,197.70 L64.93,198.62 L65.76,199.56 L66.60,200.49 L67.43,201.43 L68.26,202.37 L69.10,203.32M72.67,207.38 L73.50,208.32 L74.33,209.28 L75.17,210.25 L76.00,211.25 L76.83,212.30 L77.67,213.42M81.24,219.06 L82.07,220.33 L82.91,221.58 L83.74,222.81 L84.57,224.04 L85.41,225.27 L86.24,226.49M89.81,231.62 L90.65,232.88 L91.48,234.16 L92.31,235.48 L93.15,236.82 L93.98,238.22 L94.81,239.68M98.39,246.67 L99.22,248.30 L100.05,249.95 L100.89,251.58 L101.72,253.17 L102.55,254.69 L103.39,256.13M106.96,261.99 L107.79,263.41 L108.63,264.85 L109.46,266.30 L110.29,267.78 L111.13,269.29 L111.96,270.88M115.53,277.82 L116.36,279.09 L117.20,280.27 L118.03,281.44 L118.86,282.64 L119.70,283.85 L120.53,285.07M124.10,290.30 L124.94,291.52 L125.77,292.74 L126.60,293.96 L127.44,295.18 L128.27,296.41 L129.10,297.63M132.68,302.89 L133.51,304.12 L134.34,305.36 L135.18,306.61 L136.01,307.87 L136.84,309.14 L137.68,310.42M141.25,315.91 L142.08,317.17 L142.92,318.43 L143.75,319.66 L144.58,320.88 L145.42,322.08 L146.25,323.25M149.82,328.10 L150.65,329.19 L151.49,330.28 L152.32,331.35 L153.15,332.40 L153.99,333.45 L154.82,334.48M158.39,338.71 L159.23,339.66 L160.06,340.58 L160.89,341.49 L161.73,342.38 L162.56,343.25 L163.39,344.10M166.97,347.63 L167.80,348.42 L168.63,349.21 L169.47,350.00 L170.30,350.78 L171.13,351.56 L171.97,352.34M175.54,355.56 L176.37,356.28 L177.21,357.00 L178.04,357.72 L178.87,358.43 L179.71,359.14 L180.54,359.85M184.11,362.92 L184.95,363.64 L185.78,364.35 L186.61,365.04 L187.45,365.72 L188.28,366.39 L189.11,367.07M192.68,370.06 L193.52,370.80 L194.35,371.57 L195.18,372.36 L196.02,373.19 L196.85,374.05 L197.68,374.95M201.26,379.08 L202.09,380.10 L202.92,381.14 L203.76,382.19 L204.59,383.26 L205.42,384.35 L206.26,385.45M209.83,390.29 L210.66,391.47 L211.50,392.66 L212.33,393.88 L213.16,395.11 L214.00,396.36 L214.83,397.62M218.40,403.11 L219.24,404.39 L220.07,405.67 L220.90,406.94 L221.74,408.20 L222.57,409.45 L223.40,410.66M226.98,415.69 L227.81,416.86 L228.64,418.04 L229.48,419.24 L230.31,420.47 L231.14,421.74 L231.98,423.04M235.55,429.28 L236.38,430.91 L237.21,432.61 L238.05,434.36 L238.88,436.15 L239.71,437.98 L240.55,439.83M244.12,447.84 L244.95,449.67 L245.79,451.47 L246.62,453.22 L247.45,454.92 L248.29,456.61 L249.12,458.30M252.69,465.45 L253.53,467.06 L254.36,468.62 L255.19,470.15 L256.03,471.62 L256.86,473.04 L257.69,474.40M261.27,479.50 L262.10,480.55 L262.93,481.57 L263.77,482.55 L264.60,483.52 L265.43,484.47 L266.27,485.42M269.84,489.60 L270.67,490.64 L271.50,491.70 L272.34,492.76 L273.17,493.84 L274.00,494.91 L274.84,495.99M278.41,500.50 L279.24,501.51 L280.08,502.49 L280.91,503.47 L281.74,504.44 L282.58,505.40 L283.41,506.36M286.98,510.26 L287.82,511.10 L288.65,511.93 L289.48,512.72 L290.32,513.50 L291.15,514.27 L291.98,515.03M295.56,518.17 L296.39,518.87 L297.22,519.55 L298.06,520.22 L298.89,520.87 L299.72,521.51 L300.56,522.12M304.13,524.53 L304.96,525.05 L305.80,525.55 L306.63,526.04 L307.46,526.51 L308.30,526.98 L309.13,527.43M312.70,529.26 L313.53,529.66 L314.37,530.06 L315.20,530.44 L316.03,530.81 L316.87,531.17 L317.70,531.53M321.27,532.92 L322.11,533.21 L322.94,533.48 L323.77,533.74 L324.61,533.99 L325.44,534.23 L326.27,534.45M329.85,535.32 L330.68,535.50 L331.51,535.68 L332.35,535.85 L333.18,536.02 L334.01,536.19 L334.85,536.35M338.42,537.05 L339.25,537.21 L340.09,537.35 L340.92,537.49 L341.75,537.63 L342.59,537.76 L343.42,537.89M346.99,538.40 L347.82,538.52 L348.66,538.63 L349.49,538.74 L350.32,538.85 L351.16,538.95 L351.99,539.06M355.56,539.52 L356.40,539.62 L357.23,539.72 L358.06,539.76 L358.90,539.75 L359.73,539.71 L360.56,539.67M364.14,539.33 L364.97,539.23 L365.80,539.12 L366.64,538.99 L367.47,538.86 L368.30,538.72 L369.14,538.55M372.71,537.64 L373.54,537.38 L374.38,537.09 L375.21,536.79 L376.04,536.48 L376.88,536.15 L377.71,535.81M381.28,534.05 L382.12,533.60 L382.95,533.15 L383.78,532.70 L384.62,532.27 L385.45,531.84 L386.28,531.42M389.85,529.53 L390.69,529.06 L391.52,528.56 L392.35,528.03 L393.19,527.47 L394.02,526.85 L394.85,526.17M398.43,522.92 L399.26,522.15 L400.09,521.42 L400.93,520.73 L401.76,520.07 L402.59,519.43 L403.43,518.80M407.00,516.10 L407.83,515.44 L408.67,514.76 L409.50,514.06 L410.33,513.34 L411.17,512.60 L412.00,511.85M415.57,508.58 L416.41,507.81 L417.24,507.04 L418.07,506.29 L418.91,505.54 L419.74,504.78 L420.57,504.03M424.14,500.82 L424.98,500.07 L425.81,499.33 L426.64,498.59 L427.48,497.86 L428.31,497.13 L429.14,496.41M432.72,493.44 L433.55,492.74 L434.38,492.05 L435.22,491.34 L436.05,490.62 L436.88,489.87 L437.72,489.10M441.29,485.58 L442.12,484.71 L442.96,483.81 L443.79,482.90 L444.62,481.98 L445.46,481.06 L446.29,480.13M449.86,476.03 L450.70,475.05 L451.53,474.05 L452.36,473.03 L453.20,471.99 L454.03,470.92 L454.86,469.81M458.44,464.77 L459.27,463.54 L460.10,462.32 L460.94,461.10 L461.77,459.89 L462.60,458.69 L463.44,457.49M467.01,452.21 L467.84,450.92 L468.67,449.61 L469.51,448.25 L470.34,446.87 L471.17,445.47 L472.01,444.06M475.58,437.72 L476.41,436.15 L477.25,434.54 L478.08,432.87 L478.91,431.12 L479.75,429.25 L480.58,427.27M484.15,418.19 L484.99,416.17 L485.82,414.26 L486.65,412.43 L487.49,410.64 L488.32,408.90 L489.15,407.18M492.73,399.91 L493.56,398.19 L494.39,396.44 L495.23,394.66 L496.06,392.84 L496.89,390.99 L497.73,389.13M501.30,381.23 L502.13,379.47 L502.96,377.76 L503.80,376.13 L504.63,374.55 L505.46,373.03 L506.30,371.57M509.87,365.63 L510.70,364.24 L511.54,362.84 L512.37,361.41 L513.20,359.96 L514.04,358.50 L514.87,357.03M518.44,350.79 L519.28,349.36 L520.11,347.95 L520.94,346.56 L521.78,345.20 L522.61,343.87 L523.44,342.58M527.02,337.46 L527.85,336.30 L528.68,335.17 L529.52,334.08 L530.35,333.06 L531.18,332.12 L532.02,331.26M535.59,328.48 L536.42,328.00 L537.26,327.57 L538.09,327.20 L538.92,326.87 L539.76,326.58 L540.59,326.31M544.16,325.42 L544.99,325.25 L545.83,325.10 L546.66,324.97 L547.49,324.84 L548.33,324.72 L549.16,324.62M552.73,324.27 L553.57,324.21 L554.40,324.16 L555.23,324.11 L556.07,324.08 L556.90,324.08 L557.73,324.11M561.31,324.59 L562.14,324.78 L562.97,325.00 L563.81,325.23 L564.64,325.48 L565.47,325.74 L566.31,326.00M569.88,327.12 L570.71,327.44 L571.55,327.80 L572.38,328.17 L573.21,328.55 L574.05,328.92 L574.88,329.27M578.45,330.48 L579.28,330.70 L580.12,330.94 L580.95,331.21 L581.78,331.49 L582.62,331.77 L583.45,332.06M587.02,333.18 L587.86,333.38 L588.69,333.56 L589.52,333.71 L590.36,333.83 L591.19,333.92 L592.02,333.97M595.60,333.75 L596.43,333.59 L597.26,333.40 L598.10,333.17 L598.93,332.92 L599.76,332.65 L600.60,332.35M604.17,330.91 L605.00,330.54 L605.84,330.16 L606.67,329.77 L607.50,329.37 L608.34,328.96 L609.17,328.55M612.74,326.68 L613.58,326.22 L614.41,325.76 L615.24,325.30 L616.08,324.83 L616.91,324.36 L617.74,323.88M621.31,321.77 L622.15,321.27 L622.98,320.75 L623.81,320.22 L624.65,319.68 L625.48,319.12 L626.31,318.53M629.89,315.79 L630.72,315.08 L631.55,314.36 L632.39,313.61 L633.22,312.85 L634.05,312.08 L634.89,311.29M638.46,307.86 L639.29,307.01 L640.13,306.15 L640.96,305.26 L641.79,304.35 L642.63,303.44 L643.46,302.51M647.03,298.48 L647.87,297.53 L648.70,296.59 L649.53,295.66 L650.37,294.72 L651.20,293.80 L652.03,292.89M655.60,289.18 L656.44,288.37 L657.27,287.59 L658.10,286.81 L658.94,286.04 L659.77,285.28 L660.60,284.53M664.18,281.47 L665.01,280.79 L665.84,280.14 L666.68,279.50 L667.51,278.87 L668.34,278.27 L669.18,277.69M672.75,275.47 L673.58,275.01 L674.42,274.57 L675.25,274.15 L676.08,273.76 L676.92,273.41 L677.75,273.10M681.32,272.27 L682.16,272.20 L682.99,272.17 L683.82,272.17 L684.66,272.21 L685.49,272.30 L686.32,272.42M689.90,273.32 L690.73,273.59 L691.56,273.87 L692.40,274.17 L693.23,274.49 L694.06,274.81 L694.90,275.16M698.47,276.75 L699.30,277.15 L700.13,277.57 L700.97,277.97 L701.80,278.36 L702.63,278.78 L703.47,279.36M707.04,283.55 L707.87,284.61 L708.71,285.71 L709.54,286.83 L710.37,287.97 L711.21,289.13 L712.04,290.30M715.61,295.36 L716.45,296.55 L717.28,297.74 L718.11,298.92 L718.95,300.10 L719.78,301.28 L720.61,302.45M724.19,307.37 L725.02,308.49 L725.85,309.60 L726.69,310.71 L727.52,311.81 L728.35,312.91 L729.19,314.01M732.76,318.68 L733.59,319.77 L734.43,320.85 L735.26,321.92 L736.09,323.00 L736.93,324.07 L737.76,325.13M741.33,329.67 L742.16,330.71 L743.00,331.76 L743.83,332.79 L744.66,333.83 L745.50,334.85 L746.33,335.88M749.90,340.19 L750.74,341.19 L751.57,342.18 L752.40,343.16 L753.24,344.14 L754.07,345.12 L754.90,346.09M758.48,350.23 L759.31,351.18 L760.14,352.14 L760.98,353.08 L761.81,354.03 L762.64,354.97 L763.48,355.90M767.05,359.86 L767.88,360.76 L768.72,361.66 L769.55,362.55 L770.38,363.44 L771.22,364.33 L772.05,365.22M775.62,368.75 L776.45,369.38 L777.29,369.93 L778.12,370.41 L778.95,370.87 L779.79,371.30 L780.62,371.73M784.19,373.43 L785.03,373.79 L785.86,374.12 L786.69,374.42 L787.53,374.69 L788.36,374.94 L789.19,375.15M792.77,375.61 L793.60,375.60 L794.43,375.53 L795.27,375.41 L796.10,375.24 L796.93,375.04 L797.77,374.80M801.34,373.39 L802.17,372.98 L803.01,372.54 L803.84,372.08 L804.67,371.59 L805.51,371.07 L806.34,370.53M809.91,367.91 L810.75,367.23 L811.58,366.53 L812.41,365.79 L813.25,365.01 L814.08,364.18 L814.91,363.32M818.48,359.22 L819.32,358.19 L820.15,357.13 L820.98,356.05 L821.82,354.96 L822.65,353.85 L823.48,352.73M827.06,347.89 L827.89,346.75 L828.72,345.56 L829.56,344.34 L830.39,343.08 L831.22,341.80 L832.06,340.49M835.63,334.78 L836.46,333.46 L837.30,332.16 L838.13,330.87 L838.96,329.62 L839.80,328.40 L840.63,327.22M844.20,322.69 L845.04,321.76 L845.87,320.87 L846.70,320.02 L847.54,319.19 L848.37,318.39 L849.20,317.60M852.77,314.37 L853.61,313.63 L854.44,312.89 L855.27,312.14 L856.11,311.38 L856.94,310.60 L857.77,309.81M861.35,305.91 L862.18,304.86 L863.01,303.75 L863.85,302.59 L864.68,301.37 L865.51,300.12 L866.35,298.86M869.92,293.90 L870.75,292.92 L871.59,291.97 L872.42,291.06 L873.25,290.17 L874.09,289.30 L874.92,288.46M878.49,285.11 L879.33,284.38 L880.16,283.67 L880.99,282.98 L881.83,282.33 L882.66,281.70 L883.49,281.10M887.07,278.72 L887.90,278.18 L888.73,277.65 L889.57,277.12 L890.40,276.58 L891.23,276.04 L892.07,275.51M895.64,273.28 L896.47,272.79 L897.30,272.30 L898.14,271.83 L898.97,271.38 L899.80,270.95 L900.64,270.53M904.21,268.92 L905.04,268.63 L905.88,268.38 L906.71,268.16 L907.54,267.97 L908.38,267.81 L909.21,267.67M912.78,267.26 L913.62,267.20 L914.45,267.15 L915.28,267.10 L916.12,267.06 L916.95,267.02 L917.78,266.99M921.36,266.84 L922.19,266.82 L923.02,266.80 L923.86,266.78 L924.69,266.76 L925.52,266.75 L926.36,266.74M929.93,266.69 L930.76,266.68 L931.59,266.67 L932.43,266.66 L933.26,266.65 L934.09,266.64 L934.93,266.62M938.50,266.54 L939.33,266.52 L940.17,266.49 L941.00,266.46 L941.83,266.43 L942.67,266.40 L943.50,266.37M947.07,266.25 L947.91,266.21 L948.74,266.18 L949.57,266.15 L950.41,266.11 L951.24,266.07 L952.07,266.03M955.65,265.82 L956.48,265.76 L957.31,265.70 L958.15,265.63 L958.98,265.56 L959.81,265.49 L960.65,265.41M964.22,265.05 L965.05,264.95 L965.89,264.86 L966.72,264.76 L967.55,264.66 L968.39,264.56 L969.22,264.45M972.79,263.96 L973.62,263.84 L974.46,263.72 L975.29,263.60 L976.12,263.47 L976.96,263.34 L977.79,263.21M981.36,262.62 L982.20,262.48 L983.03,262.34 L983.86,262.20 L984.70,262.06 L985.53,261.91 L986.36,261.76M989.94,261.08 L990.77,260.91 L991.60,260.74 L992.44,260.56 L993.27,260.38 L994.10,260.20 L994.94,260.01M998.51,259.17 L999.34,258.96 L1000.18,258.75 L1001.01,258.54 L1001.84,258.32 L1002.68,258.09 L1003.51,257.85M1007.08,256.81 L1007.91,256.56 L1008.75,256.31 L1009.58,256.06 L1010.41,255.81 L1011.25,255.56 L1012.08,255.31M1015.65,254.23 L1016.49,253.98 L1017.32,253.73 L1018.15,253.48 L1018.99,253.24 L1019.82,252.99 L1020.65,252.75M1024.23,251.76 L1025.06,251.55 L1025.89,251.33 L1026.73,251.13 L1027.56,250.93 L1028.39,250.73 L1029.23,250.56M1032.80,249.94 L1033.63,249.84 L1034.47,249.75 L1035.30,249.67 L1036.13,249.62 L1036.97,249.58 L1037.80,249.57M1041.37,249.88 L1042.21,250.05 L1043.04,250.26 L1043.87,250.49 L1044.71,250.75 L1045.54,251.02 L1046.37,251.31M1049.94,252.62 L1050.78,252.96 L1051.61,253.32 L1052.44,253.71 L1053.28,254.11 L1054.11,254.54 L1054.94,254.99M1058.52,257.24 L1059.35,257.84 L1060.18,258.48 L1061.02,259.16 L1061.85,259.87 L1062.68,260.62 L1063.52,261.41M1067.09,265.47 L1067.92,266.53 L1068.76,267.63 L1069.59,268.75 L1070.42,269.89 L1071.26,271.05 L1072.09,272.23M1075.66,277.30 L1076.50,278.46 L1077.33,279.59 L1078.16,280.68 L1079.00,281.71 L1079.83,282.64 L1080.66,283.42M1084.23,285.77 L1085.07,286.76 L1085.90,287.94 L1086.73,289.26 L1087.57,290.68 L1088.40,292.18 L1089.23,293.73M1092.81,300.75 L1093.64,302.44 L1094.47,304.15 L1095.31,305.86 L1096.14,307.58 L1096.97,309.30 L1097.81,311.03M1101.38,318.43 L1102.21,320.15 L1103.05,321.85 L1103.88,323.55 L1104.71,325.23 L1105.55,326.91 L1106.38,328.63M1109.95,336.21 L1110.79,338.00 L1111.62,339.80 L1112.45,341.59 L1113.29,343.37 L1114.12,345.13 L1114.95,346.87M1118.53,353.99 L1119.36,355.54 L1120.19,357.03 L1121.03,358.47 L1121.86,359.84 L1122.69,361.14 L1123.53,362.35M1127.10,366.81 L1127.93,367.72 L1128.76,368.59 L1129.60,369.43 L1130.43,370.23 L1131.26,371.02 L1132.10,371.78M1135.67,374.94 L1136.50,375.68 L1137.34,376.43 L1138.17,377.21 L1139.00,378.03 L1139.84,378.92 L1140.67,379.88M1144.24,384.86 L1145.08,386.20 L1145.91,387.44 L1146.74,388.53 L1147.58,389.53 L1148.41,390.50 L1149.24,391.43M1152.82,395.23 L1153.65,396.10 L1154.48,396.96 L1155.32,397.83 L1156.15,398.70 L1156.98,399.58 L1157.82,400.45M1161.39,404.03 L1162.22,404.81 L1163.06,405.57 L1163.89,406.30 L1164.72,407.01 L1165.56,407.69 L1166.39,408.36M1169.96,411.12 L1170.79,411.75 L1171.63,412.38 L1172.46,413.02 L1173.29,413.66 L1174.13,414.30 L1174.96,414.95M1178.53,417.65 L1179.37,418.25 L1180.20,418.83 L1181.03,419.39 L1181.87,419.92 L1182.70,420.43 L1183.53,420.92M1187.11,422.92 L1187.94,423.40 L1188.77,423.90 L1189.61,424.41 L1190.44,424.94 L1191.27,425.47 L1192.11,426.01M1195.68,428.34 L1196.51,428.88 L1197.35,429.41 L1198.18,429.94 L1199.01,430.45 L1199.85,430.95 L1200.68,431.43M1204.25,433.43 L1205.08,433.92 L1205.92,434.43 L1206.75,434.97 L1207.58,435.53 L1208.42,436.12 L1209.25,436.73M1212.82,439.44 L1213.66,440.08 L1214.49,440.72 L1215.32,441.34 L1216.16,441.97 L1216.99,442.59 L1217.82,443.22M1221.40,445.91 L1222.23,446.55 L1223.06,447.19 L1223.90,447.83 L1224.73,448.44 L1225.56,449.05 L1226.40,449.65M1229.97,452.34 L1230.80,453.03 L1231.64,453.77 L1232.47,454.57 L1233.30,455.45 L1234.14,456.48 L1234.97,457.70M1238.54,462.76 L1239.38,463.74 L1240.21,464.67 L1241.04,465.57 L1241.88,466.45 L1242.71,467.33 L1243.54,468.21M1247.11,471.91 L1247.95,472.77 L1248.78,473.62 L1249.61,474.47 L1250.45,475.32 L1251.28,476.16 L1252.11,477.00M1255.69,480.57 L1256.52,481.39 L1257.35,482.22 L1258.19,483.03 L1259.02,483.85 L1259.85,484.66 L1260.69,485.46M1264.26,488.87 L1265.09,489.65 L1265.93,490.42 L1266.76,491.20 L1267.59,491.98 L1268.43,492.76 L1269.26,493.54M1272.83,496.90 L1273.67,497.68 L1274.50,498.46 L1275.33,499.24 L1276.17,500.00 L1277.00,500.76 L1277.83,501.52M1281.40,504.65 L1282.24,505.35 L1283.07,506.04 L1283.90,506.71 L1284.74,507.37 L1285.57,508.01 L1286.40,508.64M1289.98,511.10 L1290.81,511.62 L1291.64,512.12 L1292.48,512.59 L1293.31,513.04 L1294.14,513.46 L1294.98,513.87M1298.55,515.42 L1299.38,515.74 L1300.22,516.05 L1301.05,516.35 L1301.88,516.64 L1302.72,516.92 L1303.55,517.18M1307.12,518.24 L1307.96,518.47 L1308.79,518.69 L1309.62,518.91 L1310.46,519.13 L1311.29,519.34 L1312.12,519.55M1315.70,520.47 L1316.53,520.69 L1317.36,520.91 L1318.20,521.14 L1319.03,521.36 L1319.86,521.57 L1320.70,521.78M1324.27,522.49 L1325.10,522.59 L1325.93,522.66 L1326.77,522.71 L1327.60,522.73 L1328.43,522.73 L1329.27,522.71M1332.84,522.46 L1333.67,522.36 L1334.51,522.25 L1335.34,522.12 L1336.17,521.99 L1337.01,521.84 L1337.84,521.69M1341.41,520.95 L1342.25,520.76 L1343.08,520.57 L1343.91,520.38 L1344.75,520.18 L1345.58,519.99 L1346.41,519.79M1349.99,518.94 L1350.82,518.74 L1351.65,518.54 L1352.49,518.35 L1353.32,518.16 L1354.15,517.97 L1354.99,517.78M1358.56,516.93 L1359.39,516.73 L1360.22,516.53 L1361.06,516.32 L1361.89,516.12 L1362.72,515.91 L1363.56,515.70M1367.13,514.80 L1367.96,514.59 L1368.80,514.38 L1369.63,514.17 L1370.46,513.96 L1371.30,513.75 L1372.13,513.54M1375.70,512.65 L1376.54,512.44 L1377.37,512.24 L1378.20,512.04 L1379.04,511.84 L1379.87,511.64 L1380.70,511.44M1384.28,510.57 L1385.11,510.37 L1385.94,510.16 L1386.78,509.96 L1387.61,509.75 L1388.44,509.55 L1389.28,509.35M1392.85,508.48 L1393.68,508.28 L1394.52,508.09 L1395.35,507.89 L1396.18,507.70 L1397.02,507.51 L1397.85,507.32M1401.42,506.56 L1402.25,506.39 L1403.09,506.23 L1403.92,506.08 L1404.75,505.94 L1405.59,505.82 L1406.42,505.70M1409.99,505.38 L1410.83,505.34 L1411.66,505.33 L1412.49,505.33 L1413.33,505.34 L1414.16,505.37 L1414.99,505.41M1418.57,505.60 L1419.40,505.75 L1420.23,506.03 L1421.07,506.33 L1421.90,506.59 L1422.73,506.83 L1423.57,507.08M1427.14,508.27 L1427.97,508.62 L1428.81,509.00 L1429.64,509.43 L1430.47,509.90 L1431.31,510.41 L1432.14,510.96M1435.71,513.47 L1436.54,514.08 L1437.38,514.68 L1438.21,515.28 L1439.04,515.86 L1439.88,516.43 L1440.71,516.99M1444.28,519.56 L1445.12,520.25 L1445.95,520.97 L1446.78,521.75 L1447.62,522.57 L1448.45,523.43 L1449.28,524.32M1452.86,528.31 L1453.69,529.24 L1454.52,530.16 L1455.36,531.07 L1456.19,531.95 L1457.02,532.81 L1457.86,533.67M1461.43,537.40 L1462.26,538.33 L1463.10,539.30 L1463.93,540.30 L1464.76,541.36 L1465.60,542.45 L1466.43,543.57M1470.00,548.52 L1470.84,549.67 L1471.67,550.80 L1472.50,551.90 L1473.34,552.98 L1474.17,554.03 L1475.00,555.07M1478.57,559.49 L1479.41,560.54 L1480.24,561.62 L1481.07,562.74 L1481.91,563.87 L1482.74,565.03 L1483.57,566.21M1487.15,571.38 L1487.98,572.59 L1488.81,573.80 L1489.65,575.00 L1490.48,576.20 L1491.31,577.39 L1492.15,578.59M1495.72,583.74 L1496.55,584.96 L1497.39,586.19 L1498.22,587.44 L1499.05,588.79 L1499.89,590.23 L1500.72,591.70M1504.29,596.94 L1505.13,597.98 L1505.96,598.99 L1506.79,599.99 L1507.63,600.99 L1508.46,601.97 L1509.29,602.95M1512.86,607.04 L1513.70,607.98 L1514.53,608.90 L1515.36,609.82 L1516.20,610.73 L1517.03,611.63 L1517.86,612.51M1521.44,616.17 L1522.27,616.99 L1523.10,617.78 L1523.94,618.56 L1524.77,619.32 L1525.60,620.07 L1526.44,620.80M1530.01,623.80 L1530.84,624.47 L1531.68,625.13 L1532.51,625.77 L1533.34,626.41 L1534.18,627.04 L1535.01,627.66M1538.58,630.25 L1539.42,630.84 L1540.25,631.42 L1541.08,632.00 L1541.92,632.57 L1542.75,633.13 L1543.58,633.68M1547.16,635.95 L1547.99,636.45 L1548.82,636.95 L1549.66,637.45 L1550.49,637.93 L1551.32,638.41 L1552.16,638.89M1555.73,640.87 L1556.56,641.32 L1557.39,641.77 L1558.23,642.21 L1559.06,642.65 L1559.89,643.09 L1560.73,643.52M1564.30,645.32 L1565.13,645.73 L1565.97,646.13 L1566.80,646.52 L1567.63,646.91 L1568.47,647.29 L1569.30,647.67M1572.87,649.20 L1573.71,649.54 L1574.54,649.87 L1575.37,650.19 L1576.21,650.50 L1577.04,650.80 L1577.87,651.09M1581.45,652.21 L1582.28,652.45 L1583.11,652.68 L1583.95,652.90 L1584.78,653.12 L1585.61,653.34 L1586.45,653.55M1590.02,654.44 L1590.85,654.65 L1591.69,654.86 L1592.52,655.08 L1593.35,655.30 L1594.19,655.52 L1595.02,655.75M1598.59,656.73 L1599.42,656.96 L1600.26,657.19 L1601.09,657.42 L1601.92,657.65 L1602.76,657.88 L1603.59,658.10M1607.16,659.04 L1608.00,659.25 L1608.83,659.46 L1609.66,659.67 L1610.50,659.87 L1611.33,660.07 L1612.16,660.26M1615.74,661.10 L1616.57,661.29 L1617.40,661.49 L1618.24,661.68 L1619.07,661.87 L1619.90,662.05 L1620.74,662.23M1624.31,662.94 L1625.14,663.08 L1625.98,663.22 L1626.81,663.34 L1627.64,663.46 L1628.48,663.57 L1629.31,663.66M1632.88,663.96 L1633.71,664.00 L1634.55,664.05 L1635.38,664.08 L1636.21,664.10 L1637.05,664.12 L1637.88,664.13M1641.45,664.09 L1642.29,664.07 L1643.12,664.03 L1643.95,663.98 L1644.79,663.93 L1645.62,663.87 L1646.45,663.80M1650.03,663.42 L1650.86,663.30 L1651.69,663.17 L1652.53,663.04 L1653.36,662.89 L1654.19,662.74 L1655.03,662.59M1658.60,661.83 L1659.43,661.65 L1660.27,661.45 L1661.10,661.26 L1661.93,661.06 L1662.77,660.85 L1663.60,660.65M1667.17,659.75 L1668.01,659.53 L1668.84,659.30 L1669.67,659.07 L1670.51,658.84 L1671.34,658.60 L1672.17,658.36M1675.74,657.28 L1676.58,657.01 L1677.41,656.75 L1678.24,656.48 L1679.08,656.20 L1679.91,655.93 L1680.74,655.65M1684.32,654.40 L1685.15,654.11 L1685.98,653.80 L1686.82,653.50 L1687.65,653.18 L1688.48,652.87 L1689.32,652.55M1692.89,651.15 L1693.72,650.82 L1694.56,650.48 L1695.39,650.14 L1696.22,649.79 L1697.06,649.45 L1697.89,649.09M1701.46,647.54 L1702.30,647.16 L1703.13,646.77 L1703.96,646.37 L1704.80,645.97 L1705.63,645.56 L1706.46,645.14M1710.03,643.31 L1710.87,642.87 L1711.70,642.44 L1712.53,642.00 L1713.37,641.56 L1714.20,641.12 L1715.03,640.69" stroke="#089981" stroke-width="1.15" stroke-linecap="butt"/><path d="M12.66,304.32 L13.49,304.37 L14.33,304.41 L15.16,304.44 L15.99,304.48 L16.83,304.52 L17.66,304.58M21.23,304.95 L22.07,305.08 L22.90,305.23 L23.73,305.41 L24.57,305.60 L25.40,305.79 L26.23,306.00M29.81,306.93 L30.64,307.16 L31.47,307.41 L32.31,307.66 L33.14,307.92 L33.97,308.19 L34.81,308.48M38.38,309.87 L39.21,310.26 L40.04,310.68 L40.88,311.16 L41.71,311.69 L42.54,312.27 L43.38,312.91M46.95,316.02 L47.78,316.76 L48.62,317.48 L49.45,318.16 L50.28,318.78 L51.12,319.37 L51.95,319.94M55.52,322.29 L56.36,322.85 L57.19,323.43 L58.02,324.05 L58.86,324.70 L59.69,325.40 L60.52,326.16M64.10,329.92 L64.93,330.93 L65.76,331.96 L66.60,332.99 L67.43,334.04 L68.26,335.07 L69.10,336.10M72.67,340.50 L73.50,341.53 L74.33,342.57 L75.17,343.63 L76.00,344.69 L76.83,345.77 L77.67,346.87M81.24,351.77 L82.07,352.97 L82.91,354.20 L83.74,355.47 L84.57,356.78 L85.41,358.11 L86.24,359.48M89.81,365.56 L90.65,367.02 L91.48,368.49 L92.31,369.97 L93.15,371.45 L93.98,372.94 L94.81,374.44M98.39,380.82 L99.22,382.28 L100.05,383.73 L100.89,385.16 L101.72,386.56 L102.55,387.96 L103.39,389.34M106.96,395.16 L107.79,396.53 L108.63,397.92 L109.46,399.33 L110.29,400.76 L111.13,402.22 L111.96,403.69M115.53,410.08 L116.36,411.56 L117.20,413.03 L118.03,414.48 L118.86,415.92 L119.70,417.36 L120.53,418.79M124.10,424.84 L124.94,426.23 L125.77,427.61 L126.60,428.97 L127.44,430.32 L128.27,431.67 L129.10,433.02M132.68,438.64 L133.51,439.91 L134.34,441.17 L135.18,442.41 L136.01,443.63 L136.84,444.84 L137.68,446.04M141.25,451.01 L142.08,452.13 L142.92,453.23 L143.75,454.32 L144.58,455.40 L145.42,456.45 L146.25,457.49M149.82,461.81 L150.65,462.81 L151.49,463.80 L152.32,464.79 L153.15,465.78 L153.99,466.77 L154.82,467.76M158.39,471.90 L159.23,472.83 L160.06,473.74 L160.89,474.63 L161.73,475.50 L162.56,476.33 L163.39,477.15M166.97,480.47 L167.80,481.23 L168.63,481.99 L169.47,482.74 L170.30,483.49 L171.13,484.23 L171.97,484.97M175.54,488.13 L176.37,488.87 L177.21,489.60 L178.04,490.33 L178.87,491.06 L179.71,491.77 L180.54,492.47M184.11,495.47 L184.95,496.18 L185.78,496.91 L186.61,497.67 L187.45,498.45 L188.28,499.27 L189.11,500.12M192.68,504.08 L193.52,505.07 L194.35,506.06 L195.18,507.06 L196.02,508.07 L196.85,509.10 L197.68,510.15M201.26,514.76 L202.09,515.85 L202.92,516.93 L203.76,518.00 L204.59,519.06 L205.42,520.11 L206.26,521.15M209.83,525.68 L210.66,526.79 L211.50,527.92 L212.33,529.10 L213.16,530.32 L214.00,531.60 L214.83,532.92M218.40,538.82 L219.24,540.19 L220.07,541.53 L220.90,542.84 L221.74,544.13 L222.57,545.40 L223.40,546.67M226.98,552.13 L227.81,553.45 L228.64,554.80 L229.48,556.20 L230.31,557.63 L231.14,559.10 L231.98,560.61M235.55,567.24 L236.38,568.80 L237.21,570.33 L238.05,571.85 L238.88,573.37 L239.71,574.91 L240.55,576.46M244.12,582.96 L244.95,584.41 L245.79,585.82 L246.62,587.18 L247.45,588.51 L248.29,589.80 L249.12,591.06M252.69,596.35 L253.53,597.59 L254.36,598.84 L255.19,600.10 L256.03,601.40 L256.86,602.75 L257.69,604.17M261.27,610.70 L262.10,612.15 L262.93,613.52 L263.77,614.80 L264.60,616.01 L265.43,617.19 L266.27,618.32M269.84,622.96 L270.67,624.01 L271.50,625.06 L272.34,626.10 L273.17,627.14 L274.00,628.17 L274.84,629.19M278.41,633.45 L279.24,634.41 L280.08,635.34 L280.91,636.26 L281.74,637.16 L282.58,638.04 L283.41,638.90M286.98,642.40 L287.82,643.17 L288.65,643.94 L289.48,644.69 L290.32,645.43 L291.15,646.15 L291.98,646.85M295.56,649.68 L296.39,650.31 L297.22,650.94 L298.06,651.56 L298.89,652.19 L299.72,652.82 L300.56,653.45M304.13,656.07 L304.96,656.67 L305.80,657.25 L306.63,657.82 L307.46,658.37 L308.30,658.92 L309.13,659.47M312.70,661.68 L313.53,662.16 L314.37,662.62 L315.20,663.05 L316.03,663.46 L316.87,663.85 L317.70,664.22M321.27,665.59 L322.11,665.88 L322.94,666.16 L323.77,666.43 L324.61,666.70 L325.44,666.96 L326.27,667.21M329.85,668.12 L330.68,668.32 L331.51,668.53 L332.35,668.74 L333.18,668.95 L334.01,669.19 L334.85,669.43M338.42,670.44 L339.25,670.64 L340.09,670.81 L340.92,670.97 L341.75,671.11 L342.59,671.25 L343.42,671.39M346.99,672.02 L347.82,672.15 L348.66,672.27 L349.49,672.37 L350.32,672.46 L351.16,672.54 L351.99,672.59M355.56,672.65 L356.40,672.61 L357.23,672.56 L358.06,672.48 L358.90,672.40 L359.73,672.31 L360.56,672.20M364.14,671.69 L364.97,671.55 L365.80,671.41 L366.64,671.27 L367.47,671.13 L368.30,670.98 L369.14,670.83M372.71,670.15 L373.54,669.98 L374.38,669.81 L375.21,669.64 L376.04,669.47 L376.88,669.29 L377.71,669.12M381.28,668.18 L382.12,667.26 L382.95,666.71 L383.78,666.24 L384.62,665.77 L385.45,665.30 L386.28,664.82M389.85,662.67 L390.69,662.12 L391.52,661.56 L392.35,660.96 L393.19,660.32 L394.02,659.65 L394.85,658.95M398.43,655.75 L399.26,655.00 L400.09,654.27 L400.93,653.55 L401.76,652.85 L402.59,652.17 L403.43,651.51M407.00,648.71 L407.83,648.07 L408.67,647.43 L409.50,646.79 L410.33,646.14 L411.17,645.50 L412.00,644.84M415.57,642.07 L416.41,641.41 L417.24,640.72 L418.07,640.02 L418.91,639.31 L419.74,638.59 L420.57,637.86M424.14,634.67 L424.98,633.91 L425.81,633.14 L426.64,632.36 L427.48,631.57 L428.31,630.77 L429.14,629.96M432.72,626.41 L433.55,625.57 L434.38,624.73 L435.22,623.88 L436.05,623.03 L436.88,622.18 L437.72,621.32M441.29,617.58 L442.12,616.68 L442.96,615.78 L443.79,614.86 L444.62,613.95 L445.46,613.04 L446.29,612.13M449.86,608.09 L450.70,607.08 L451.53,606.04 L452.36,604.95 L453.20,603.77 L454.03,602.52 L454.86,601.20M458.44,595.43 L459.27,594.22 L460.10,593.08 L460.94,591.97 L461.77,590.89 L462.60,589.83 L463.44,588.79M467.01,584.20 L467.84,583.17 L468.67,582.14 L469.51,581.05 L470.34,579.86 L471.17,578.57 L472.01,577.18M475.58,570.64 L476.41,569.03 L477.25,567.40 L478.08,565.76 L478.91,564.09 L479.75,562.41 L480.58,560.71M484.15,553.13 L484.99,551.31 L485.82,549.48 L486.65,547.65 L487.49,545.82 L488.32,543.99 L489.15,542.17M492.73,534.24 L493.56,532.38 L494.39,530.51 L495.23,528.65 L496.06,526.79 L496.89,524.94 L497.73,523.08M501.30,514.99 L502.13,513.12 L502.96,511.27 L503.80,509.45 L504.63,507.67 L505.46,505.97 L506.30,504.35M509.87,498.37 L510.70,497.00 L511.54,495.58 L512.37,494.11 L513.20,492.64 L514.04,491.16 L514.87,489.69M518.44,483.74 L519.28,482.47 L520.11,481.27 L520.94,480.09 L521.78,478.94 L522.61,477.81 L523.44,476.71M527.02,472.24 L527.85,471.27 L528.68,470.34 L529.52,469.47 L530.35,468.68 L531.18,468.03 L532.02,467.63M535.59,466.72 L536.42,466.26 L537.26,465.74 L538.09,465.18 L538.92,464.60 L539.76,464.01 L540.59,463.41M544.16,460.92 L544.99,460.37 L545.83,459.84 L546.66,459.34 L547.49,458.86 L548.33,458.42 L549.16,458.02M552.73,456.89 L553.57,456.77 L554.40,456.69 L555.23,456.66 L556.07,456.66 L556.90,456.70 L557.73,456.77M561.31,457.33 L562.14,457.51 L562.97,457.69 L563.81,457.88 L564.64,458.07 L565.47,458.26 L566.31,458.45M569.88,459.27 L570.71,459.50 L571.55,459.75 L572.38,460.01 L573.21,460.29 L574.05,460.56 L574.88,460.85M578.45,462.06 L579.28,462.33 L580.12,462.59 L580.95,462.83 L581.78,463.06 L582.62,463.27 L583.45,463.46M587.02,464.26 L587.86,464.44 L588.69,464.62 L589.52,464.79 L590.36,464.95 L591.19,465.09 L592.02,465.23M595.60,465.61 L596.43,465.65 L597.26,465.66 L598.10,465.64 L598.93,465.60 L599.76,465.54 L600.60,465.47M604.17,465.08 L605.00,464.95 L605.84,464.79 L606.67,464.61 L607.50,464.41 L608.34,464.18 L609.17,463.91M612.74,462.37 L613.58,461.90 L614.41,461.39 L615.24,460.83 L616.08,460.21 L616.91,459.54 L617.74,458.83M621.31,455.31 L622.15,454.40 L622.98,453.48 L623.81,452.54 L624.65,451.58 L625.48,450.62 L626.31,449.65M629.89,445.54 L630.72,444.61 L631.55,443.68 L632.39,442.74 L633.22,441.77 L634.05,440.79 L634.89,439.79M638.46,435.43 L639.29,434.41 L640.13,433.39 L640.96,432.37 L641.79,431.36 L642.63,430.37 L643.46,429.38M647.03,425.33 L647.87,424.45 L648.70,423.59 L649.53,422.76 L650.37,421.95 L651.20,421.17 L652.03,420.41M655.60,417.27 L656.44,416.58 L657.27,415.90 L658.10,415.23 L658.94,414.58 L659.77,413.94 L660.60,413.31M664.18,410.81 L665.01,410.27 L665.84,409.75 L666.68,409.26 L667.51,408.78 L668.34,408.33 L669.18,407.92M672.75,406.67 L673.58,406.51 L674.42,406.40 L675.25,406.32 L676.08,406.29 L676.92,406.28 L677.75,406.29M681.32,406.42 L682.16,406.41 L682.99,406.37 L683.82,406.33 L684.66,406.30 L685.49,406.28 L686.32,406.28M689.90,406.44 L690.73,406.54 L691.56,406.68 L692.40,406.84 L693.23,406.98 L694.06,407.09 L694.90,407.21M698.47,408.84 L699.30,409.50 L700.13,410.22 L700.97,411.02 L701.80,411.86 L702.63,412.75 L703.47,413.66M707.04,417.80 L707.87,418.80 L708.71,419.80 L709.54,420.81 L710.37,421.81 L711.21,422.82 L712.04,423.83M715.61,428.07 L716.45,429.03 L717.28,429.99 L718.11,430.95 L718.95,431.90 L719.78,432.85 L720.61,433.81M724.19,438.00 L725.02,439.00 L725.85,440.02 L726.69,441.06 L727.52,442.12 L728.35,443.21 L729.19,444.31M732.76,449.38 L733.59,450.63 L734.43,451.89 L735.26,453.17 L736.09,454.45 L736.93,455.75 L737.76,457.05M741.33,462.60 L742.16,463.87 L743.00,465.13 L743.83,466.35 L744.66,467.56 L745.50,468.74 L746.33,469.92M749.90,474.81 L750.74,475.92 L751.57,477.02 L752.40,478.12 L753.24,479.21 L754.07,480.30 L754.90,481.39M758.48,486.05 L759.31,487.10 L760.14,488.14 L760.98,489.14 L761.81,490.13 L762.64,491.09 L763.48,492.02M767.05,495.96 L767.88,496.84 L768.72,497.69 L769.55,498.52 L770.38,499.32 L771.22,500.08 L772.05,500.81M775.62,503.49 L776.45,504.04 L777.29,504.56 L778.12,505.06 L778.95,505.54 L779.79,506.00 L780.62,506.44M784.19,508.10 L785.03,508.43 L785.86,508.74 L786.69,509.04 L787.53,509.31 L788.36,509.56 L789.19,509.77M792.77,510.28 L793.60,510.30 L794.43,510.27 L795.27,510.21 L796.10,510.11 L796.93,509.98 L797.77,509.82M801.34,508.80 L802.17,508.51 L803.01,508.19 L803.84,507.85 L804.67,507.50 L805.51,507.12 L806.34,506.73M809.91,504.74 L810.75,504.19 L811.58,503.61 L812.41,503.00 L813.25,502.37 L814.08,501.72 L814.91,501.04M818.48,498.07 L819.32,497.35 L820.15,496.62 L820.98,495.88 L821.82,495.13 L822.65,494.37 L823.48,493.59M827.06,490.12 L827.89,489.27 L828.72,488.41 L829.56,487.52 L830.39,486.61 L831.22,485.70 L832.06,484.76M835.63,480.53 L836.46,479.48 L837.30,478.40 L838.13,477.29 L838.96,476.15 L839.80,474.97 L840.63,473.73M844.20,467.79 L845.04,466.33 L845.87,464.87 L846.70,463.44 L847.54,462.04 L848.37,460.69 L849.20,459.38M852.77,453.90 L853.61,452.64 L854.44,451.38 L855.27,450.12 L856.11,448.86 L856.94,447.58 L857.77,446.30M861.35,440.21 L862.18,438.93 L863.01,437.78 L863.85,436.72 L864.68,435.72 L865.51,434.76 L866.35,433.82M869.92,429.87 L870.75,428.92 L871.59,427.95 L872.42,426.95 L873.25,425.90 L874.09,424.82 L874.92,423.73M878.49,419.19 L879.33,418.23 L880.16,417.33 L880.99,416.46 L881.83,415.60 L882.66,414.77 L883.49,413.95M887.07,410.70 L887.90,410.02 L888.73,409.36 L889.57,408.74 L890.40,408.16 L891.23,407.61 L892.07,407.10M895.64,405.24 L896.47,404.87 L897.30,404.51 L898.14,404.17 L898.97,403.85 L899.80,403.54 L900.64,403.24M904.21,402.19 L905.04,401.99 L905.88,401.81 L906.71,401.64 L907.54,401.49 L908.38,401.34 L909.21,401.21M912.78,400.75 L913.62,400.69 L914.45,400.64 L915.28,400.60 L916.12,400.58 L916.95,400.56 L917.78,400.54M921.36,400.48 L922.19,400.48 L923.02,400.48 L923.86,400.48 L924.69,400.48 L925.52,400.49 L926.36,400.50M929.93,400.53 L930.76,400.54 L931.59,400.54 L932.43,400.55 L933.26,400.55 L934.09,400.56 L934.93,400.56M938.50,400.53 L939.33,400.51 L940.17,400.49 L941.00,400.47 L941.83,400.45 L942.67,400.43 L943.50,400.40M947.07,400.29 L947.91,400.26 L948.74,400.23 L949.57,400.20 L950.41,400.16 L951.24,400.12 L952.07,400.07M955.65,399.85 L956.48,399.79 L957.31,399.72 L958.15,399.65 L958.98,399.57 L959.81,399.49 L960.65,399.40M964.22,398.98 L965.05,398.87 L965.89,398.75 L966.72,398.63 L967.55,398.51 L968.39,398.39 L969.22,398.26M972.79,397.69 L973.62,397.55 L974.46,397.41 L975.29,397.27 L976.12,397.12 L976.96,396.98 L977.79,396.83M981.36,396.21 L982.20,396.07 L983.03,395.92 L983.86,395.78 L984.70,395.63 L985.53,395.48 L986.36,395.34M989.94,394.68 L990.77,394.52 L991.60,394.36 L992.44,394.19 L993.27,394.02 L994.10,393.84 L994.94,393.66M998.51,392.79 L999.34,392.57 L1000.18,392.33 L1001.01,392.08 L1001.84,391.81 L1002.68,391.53 L1003.51,391.23M1007.08,389.83 L1007.91,389.48 L1008.75,389.13 L1009.58,388.79 L1010.41,388.44 L1011.25,388.10 L1012.08,387.77M1015.65,386.51 L1016.49,386.25 L1017.32,386.00 L1018.15,385.75 L1018.99,385.51 L1019.82,385.26 L1020.65,385.02M1024.23,384.07 L1025.06,383.87 L1025.89,383.69 L1026.73,383.52 L1027.56,383.37 L1028.39,383.24 L1029.23,383.12M1032.80,382.85 L1033.63,382.82 L1034.47,382.81 L1035.30,382.80 L1036.13,382.81 L1036.97,382.83 L1037.80,382.87M1041.37,383.22 L1042.21,383.35 L1043.04,383.51 L1043.87,383.70 L1044.71,383.90 L1045.54,384.14 L1046.37,384.40M1049.94,385.83 L1050.78,386.22 L1051.61,386.63 L1052.44,387.07 L1053.28,387.53 L1054.11,388.02 L1054.94,388.53M1058.52,390.98 L1059.35,391.62 L1060.18,392.29 L1061.02,392.98 L1061.85,393.69 L1062.68,394.43 L1063.52,395.20M1067.09,398.96 L1067.92,399.92 L1068.76,400.89 L1069.59,401.89 L1070.42,402.91 L1071.26,403.94 L1072.09,404.98M1075.66,409.57 L1076.50,410.66 L1077.33,411.75 L1078.16,412.85 L1079.00,413.92 L1079.83,416.08 L1080.66,417.62M1084.23,424.20 L1085.07,425.73 L1085.90,427.26 L1086.73,428.78 L1087.57,430.30 L1088.40,431.81 L1089.23,433.31M1092.81,439.69 L1093.64,441.15 L1094.47,442.60 L1095.31,444.03 L1096.14,445.45 L1096.97,446.84 L1097.81,448.22M1101.38,453.99 L1102.21,455.31 L1103.05,456.63 L1103.88,457.93 L1104.71,459.24 L1105.55,460.54 L1106.38,461.84M1109.95,467.44 L1110.79,468.76 L1111.62,470.09 L1112.45,471.43 L1113.29,472.79 L1114.12,474.15 L1114.95,475.52M1118.53,481.41 L1119.36,482.78 L1120.19,484.14 L1121.03,485.50 L1121.86,486.84 L1122.69,488.18 L1123.53,489.49M1127.10,494.95 L1127.93,496.18 L1128.76,497.41 L1129.60,498.65 L1130.43,499.88 L1131.26,501.11 L1132.10,502.33M1135.67,507.47 L1136.50,508.63 L1137.34,509.78 L1138.17,510.90 L1139.00,512.01 L1139.84,513.10 L1140.67,514.17M1144.24,518.46 L1145.08,519.38 L1145.91,520.28 L1146.74,521.15 L1147.58,522.00 L1148.41,522.82 L1149.24,523.61M1152.82,526.82 L1153.65,527.52 L1154.48,528.22 L1155.32,528.91 L1156.15,529.59 L1156.98,530.26 L1157.82,530.93M1161.39,533.79 L1162.22,534.46 L1163.06,535.14 L1163.89,535.82 L1164.72,536.50 L1165.56,537.20 L1166.39,537.89M1169.96,540.83 L1170.79,541.51 L1171.63,542.19 L1172.46,542.86 L1173.29,543.54 L1174.13,544.21 L1174.96,544.88M1178.53,547.75 L1179.37,548.41 L1180.20,549.08 L1181.03,549.74 L1181.87,550.40 L1182.70,551.06 L1183.53,551.72M1187.11,554.53 L1187.94,555.18 L1188.77,555.83 L1189.61,556.48 L1190.44,557.13 L1191.27,557.78 L1192.11,558.42M1195.68,561.14 L1196.51,561.76 L1197.35,562.39 L1198.18,563.01 L1199.01,563.63 L1199.85,564.25 L1200.68,564.87M1204.25,567.52 L1205.08,568.14 L1205.92,568.76 L1206.75,569.38 L1207.58,570.00 L1208.42,570.62 L1209.25,571.24M1212.82,573.94 L1213.66,574.58 L1214.49,575.22 L1215.32,575.86 L1216.16,576.51 L1216.99,577.16 L1217.82,577.80M1221.40,580.57 L1222.23,581.22 L1223.06,581.87 L1223.90,582.52 L1224.73,583.17 L1225.56,583.82 L1226.40,584.48M1229.97,587.30 L1230.80,587.97 L1231.64,588.63 L1232.47,589.30 L1233.30,589.98 L1234.14,590.65 L1234.97,591.33M1238.54,594.28 L1239.38,594.98 L1240.21,595.68 L1241.04,596.39 L1241.88,597.10 L1242.71,597.82 L1243.54,598.55M1247.11,601.70 L1247.95,602.44 L1248.78,603.19 L1249.61,603.94 L1250.45,604.70 L1251.28,605.45 L1252.11,606.21M1255.69,609.48 L1256.52,610.25 L1257.35,611.01 L1258.19,611.77 L1259.02,612.54 L1259.85,613.30 L1260.69,614.07M1264.26,617.32 L1265.09,618.07 L1265.93,618.82 L1266.76,619.58 L1267.59,620.34 L1268.43,621.12 L1269.26,621.90M1272.83,625.30 L1273.67,626.10 L1274.50,626.90 L1275.33,627.70 L1276.17,628.50 L1277.00,629.30 L1277.83,630.09M1281.40,633.43 L1282.24,634.19 L1283.07,634.93 L1283.90,635.67 L1284.74,636.40 L1285.57,637.10 L1286.40,637.80M1289.98,640.59 L1290.81,641.19 L1291.64,641.77 L1292.48,642.34 L1293.31,642.89 L1294.14,643.42 L1294.98,643.94M1298.55,646.03 L1299.38,646.48 L1300.22,646.93 L1301.05,647.37 L1301.88,647.80 L1302.72,648.22 L1303.55,648.63M1307.12,650.31 L1307.96,650.68 L1308.79,651.05 L1309.62,651.41 L1310.46,651.76 L1311.29,652.10 L1312.12,652.44M1315.70,653.81 L1316.53,654.12 L1317.36,654.41 L1318.20,654.70 L1319.03,654.98 L1319.86,655.24 L1320.70,655.48M1324.27,656.19 L1325.10,656.26 L1325.93,656.30 L1326.77,656.30 L1327.60,656.28 L1328.43,656.24 L1329.27,656.18M1332.84,655.81 L1333.67,655.67 L1334.51,655.52 L1335.34,655.36 L1336.17,655.18 L1337.01,655.00 L1337.84,654.80M1341.41,653.86 L1342.25,653.63 L1343.08,653.39 L1343.91,653.15 L1344.75,652.91 L1345.58,652.66 L1346.41,652.42M1349.99,651.35 L1350.82,651.11 L1351.65,650.87 L1352.49,650.63 L1353.32,650.39 L1354.15,650.16 L1354.99,649.92M1358.56,648.84 L1359.39,648.58 L1360.22,648.31 L1361.06,648.05 L1361.89,647.78 L1362.72,647.50 L1363.56,647.23M1367.13,646.07 L1367.96,645.81 L1368.80,645.54 L1369.63,645.28 L1370.46,645.03 L1371.30,644.77 L1372.13,644.53M1375.70,643.53 L1376.54,643.32 L1377.37,643.12 L1378.20,642.92 L1379.04,642.74 L1379.87,642.56 L1380.70,642.39M1384.28,641.74 L1385.11,641.61 L1385.94,641.48 L1386.78,641.35 L1387.61,641.23 L1388.44,641.11 L1389.28,640.99M1392.85,640.54 L1393.68,640.44 L1394.52,640.35 L1395.35,640.25 L1396.18,640.16 L1397.02,640.08 L1397.85,639.99M1401.42,639.66 L1402.25,639.58 L1403.09,639.51 L1403.92,639.44 L1404.75,639.37 L1405.59,639.31 L1406.42,639.25M1409.99,639.09 L1410.83,639.09 L1411.66,639.11 L1412.49,639.14 L1413.33,639.20 L1414.16,639.27 L1414.99,639.36M1418.57,639.84 L1419.40,639.98 L1420.23,640.13 L1421.07,640.29 L1421.90,640.47 L1422.73,640.66 L1423.57,640.86M1427.14,641.88 L1427.97,642.16 L1428.81,642.45 L1429.64,642.75 L1430.47,643.06 L1431.31,643.35 L1432.14,643.65M1435.71,645.05 L1436.54,645.45 L1437.38,645.88 L1438.21,646.34 L1439.04,646.84 L1439.88,647.38 L1440.71,647.96M1444.28,650.81 L1445.12,651.54 L1445.95,652.29 L1446.78,653.06 L1447.62,653.84 L1448.45,654.63 L1449.28,655.43M1452.86,658.97 L1453.69,659.82 L1454.52,660.68 L1455.36,661.55 L1456.19,662.43 L1457.02,663.32 L1457.86,664.22M1461.43,668.30 L1462.26,669.37 L1463.10,670.52 L1463.93,671.77 L1464.76,673.10 L1465.60,674.46 L1466.43,675.79M1470.00,680.88 L1470.84,681.99 L1471.67,683.09 L1472.50,684.19 L1473.34,685.28 L1474.17,686.37 L1475.00,687.46M1478.57,692.09 L1479.41,693.17 L1480.24,694.25 L1481.07,695.33 L1481.91,696.41 L1482.74,697.48 L1483.57,698.56M1487.15,703.19 L1487.98,704.28 L1488.81,705.36 L1489.65,706.45 L1490.48,707.54 L1491.31,708.64 L1492.15,709.73M1495.72,714.41 L1496.55,715.50 L1497.39,716.59 L1498.22,717.67 L1499.05,718.75 L1499.89,719.83 L1500.72,720.90M1504.29,725.44 L1505.13,726.48 L1505.96,727.53 L1506.79,728.57 L1507.63,729.62 L1508.46,730.67 L1509.29,731.72M1512.86,736.19 L1513.70,737.22 L1514.53,738.24 L1515.36,739.25 L1516.20,740.25 L1517.03,741.24 L1517.86,742.22M1521.44,746.25 L1522.27,747.14 L1523.10,748.02 L1523.94,748.88 L1524.77,749.73 L1525.60,750.56 L1526.44,751.38M1530.01,754.73 L1530.84,755.49 L1531.68,756.23 L1532.51,756.96 L1533.34,757.69 L1534.18,758.40 L1535.01,759.11M1538.58,762.06 L1539.42,762.73 L1540.25,763.40 L1541.08,764.06 L1541.92,764.72 L1542.75,765.37 L1543.58,766.01M1547.16,768.66 L1547.99,769.26 L1548.82,769.85 L1549.66,770.44 L1550.49,771.01 L1551.32,771.58 L1552.16,772.14M1555.73,774.46 L1556.56,774.98 L1557.39,775.49 L1558.23,776.00 L1559.06,776.49 L1559.89,776.98 L1560.73,777.46M1564.30,779.42 L1565.13,779.85 L1565.97,780.28 L1566.80,780.70 L1567.63,781.11 L1568.47,781.52 L1569.30,781.92M1572.87,783.56 L1573.71,783.93 L1574.54,784.29 L1575.37,784.65 L1576.21,785.00 L1577.04,785.35 L1577.87,785.69M1581.45,787.07 L1582.28,787.38 L1583.11,787.67 L1583.95,787.97 L1584.78,788.25 L1585.61,788.54 L1586.45,788.81M1590.02,789.93 L1590.85,790.18 L1591.69,790.42 L1592.52,790.66 L1593.35,790.89 L1594.19,791.12 L1595.02,791.34M1598.59,792.22 L1599.42,792.41 L1600.26,792.59 L1601.09,792.76 L1601.92,792.93 L1602.76,793.10 L1603.59,793.26M1607.16,793.91 L1608.00,794.06 L1608.83,794.20 L1609.66,794.34 L1610.50,794.47 L1611.33,794.61 L1612.16,794.74M1615.74,795.31 L1616.57,795.44 L1617.40,795.57 L1618.24,795.69 L1619.07,795.81 L1619.90,795.92 L1620.74,796.04M1624.31,796.45 L1625.14,796.53 L1625.98,796.60 L1626.81,796.66 L1627.64,796.71 L1628.48,796.75 L1629.31,796.79M1632.88,796.83 L1633.71,796.82 L1634.55,796.80 L1635.38,796.77 L1636.21,796.74 L1637.05,796.70 L1637.88,796.65M1641.45,796.38 L1642.29,796.30 L1643.12,796.22 L1643.95,796.13 L1644.79,796.04 L1645.62,795.94 L1646.45,795.84M1650.03,795.37 L1650.86,795.24 L1651.69,795.11 L1652.53,794.98 L1653.36,794.84 L1654.19,794.69 L1655.03,794.54M1658.60,793.84 L1659.43,793.66 L1660.27,793.47 L1661.10,793.28 L1661.93,793.08 L1662.77,792.88 L1663.60,792.67M1667.17,791.70 L1668.01,791.45 L1668.84,791.20 L1669.67,790.94 L1670.51,790.67 L1671.34,790.39 L1672.17,790.11M1675.74,788.86 L1676.58,788.55 L1677.41,788.25 L1678.24,787.94 L1679.08,787.63 L1679.91,787.32 L1680.74,787.01M1684.32,785.68 L1685.15,785.37 L1685.98,785.05 L1686.82,784.73 L1687.65,784.40 L1688.48,784.08 L1689.32,783.75M1692.89,782.31 L1693.72,781.98 L1694.56,781.64 L1695.39,781.30 L1696.22,780.96 L1697.06,780.63 L1697.89,780.29M1701.46,778.86 L1702.30,778.52 L1703.13,778.19 L1703.96,777.86 L1704.80,777.53 L1705.63,777.20 L1706.46,776.87M1710.03,775.44 L1710.87,775.11 L1711.70,774.78 L1712.53,774.44 L1713.37,774.11 L1714.20,773.78 L1715.03,773.45" stroke="#f23645" stroke-opacity="0.85" stroke-width="1.15" stroke-linecap="butt"/></g><g shape-rendering="crispEdges" fill="#f23645"><rect x="11" y="221" width="3" height="10"/><rect x="12" y="231" width="1" height="12"/><rect x="16" y="246" width="3" height="3"/><rect x="17" y="249" width="1" height="3"/><rect x="20" y="249" width="3" height="16"/><rect x="42" y="199" width="1" height="7"/><rect x="41" y="206" width="3" height="17"/><rect x="42" y="223" width="1" height="13"/><rect x="46" y="222" width="3" height="19"/><rect x="47" y="241" width="1" height="4"/><rect x="60" y="224" width="1" height="8"/><rect x="59" y="232" width="3" height="2"/><rect x="60" y="234" width="1" height="20"/><rect x="68" y="228" width="1" height="1"/><rect x="67" y="229" width="3" height="12"/><rect x="68" y="241" width="1" height="10"/><rect x="80" y="248" width="3" height="48"/><rect x="81" y="296" width="1" height="20"/><rect x="85" y="284" width="1" height="12"/><rect x="84" y="296" width="3" height="8"/><rect x="85" y="304" width="1" height="6"/><rect x="93" y="291" width="3" height="14"/><rect x="102" y="297" width="1" height="7"/><rect x="101" y="304" width="3" height="21"/><rect x="102" y="325" width="1" height="12"/><rect x="106" y="324" width="3" height="16"/><rect x="107" y="340" width="1" height="3"/><rect x="114" y="332" width="3" height="35"/><rect x="115" y="367" width="1" height="13"/><rect x="131" y="350" width="3" height="19"/><rect x="132" y="369" width="1" height="25"/><rect x="136" y="369" width="3" height="14"/><rect x="137" y="383" width="1" height="4"/><rect x="140" y="382" width="3" height="21"/><rect x="141" y="403" width="1" height="29"/><rect x="149" y="396" width="3" height="51"/><rect x="153" y="446" width="3" height="10"/><rect x="154" y="456" width="1" height="6"/><rect x="183" y="398" width="3" height="17"/><rect x="188" y="409" width="1" height="5"/><rect x="187" y="414" width="3" height="5"/><rect x="188" y="419" width="1" height="11"/><rect x="196" y="405" width="3" height="8"/><rect x="197" y="413" width="1" height="9"/><rect x="201" y="403" width="1" height="9"/><rect x="200" y="412" width="3" height="8"/><rect x="201" y="420" width="1" height="4"/><rect x="210" y="412" width="1" height="5"/><rect x="209" y="417" width="3" height="2"/><rect x="210" y="419" width="1" height="13"/><rect x="213" y="419" width="3" height="5"/><rect x="214" y="424" width="1" height="6"/><rect x="217" y="423" width="3" height="29"/><rect x="218" y="452" width="1" height="10"/><rect x="221" y="451" width="3" height="53"/><rect x="222" y="504" width="1" height="9"/><rect x="226" y="502" width="3" height="2"/><rect x="227" y="504" width="1" height="16"/><rect x="240" y="493" width="1" height="3"/><rect x="239" y="496" width="3" height="11"/><rect x="240" y="507" width="1" height="12"/><rect x="244" y="502" width="1" height="4"/><rect x="243" y="506" width="3" height="10"/><rect x="244" y="516" width="1" height="2"/><rect x="251" y="505" width="3" height="25"/><rect x="256" y="529" width="3" height="27"/><rect x="257" y="556" width="1" height="6"/><rect x="260" y="561" width="3" height="8"/><rect x="261" y="569" width="1" height="6"/><rect x="264" y="569" width="3" height="7"/><rect x="265" y="576" width="1" height="4"/><rect x="269" y="575" width="3" height="17"/><rect x="270" y="592" width="1" height="1"/><rect x="274" y="584" width="1" height="3"/><rect x="273" y="587" width="3" height="1"/><rect x="274" y="588" width="1" height="7"/><rect x="277" y="588" width="3" height="2"/><rect x="278" y="590" width="1" height="11"/><rect x="281" y="589" width="3" height="8"/><rect x="287" y="592" width="1" height="4"/><rect x="286" y="596" width="3" height="1"/><rect x="287" y="597" width="1" height="7"/><rect x="295" y="583" width="1" height="3"/><rect x="294" y="586" width="3" height="11"/><rect x="295" y="597" width="1" height="7"/><rect x="300" y="593" width="1" height="3"/><rect x="299" y="596" width="3" height="4"/><rect x="300" y="600" width="1" height="12"/><rect x="303" y="599" width="3" height="13"/><rect x="304" y="612" width="1" height="3"/><rect x="308" y="607" width="1" height="3"/><rect x="307" y="610" width="3" height="2"/><rect x="308" y="612" width="1" height="6"/><rect x="329" y="593" width="3" height="3"/><rect x="330" y="596" width="1" height="6"/><rect x="333" y="595" width="3" height="7"/><rect x="334" y="602" width="1" height="3"/><rect x="337" y="601" width="3" height="8"/><rect x="350" y="601" width="3" height="9"/><rect x="351" y="610" width="1" height="11"/><rect x="359" y="604" width="3" height="3"/><rect x="368" y="591" width="1" height="14"/><rect x="367" y="605" width="3" height="6"/><rect x="368" y="611" width="1" height="10"/><rect x="376" y="608" width="3" height="17"/><rect x="377" y="625" width="1" height="2"/><rect x="380" y="618" width="3" height="8"/><rect x="381" y="626" width="1" height="6"/><rect x="384" y="624" width="3" height="14"/><rect x="385" y="638" width="1" height="6"/><rect x="389" y="637" width="3" height="13"/><rect x="390" y="650" width="1" height="4"/><rect x="398" y="647" width="1" height="1"/><rect x="397" y="648" width="3" height="14"/><rect x="398" y="662" width="1" height="7"/><rect x="419" y="427" width="3" height="36"/><rect x="420" y="463" width="1" height="16"/><rect x="423" y="471" width="3" height="55"/><rect x="424" y="526" width="1" height="32"/><rect x="427" y="525" width="3" height="3"/><rect x="428" y="528" width="1" height="5"/><rect x="431" y="535" width="3" height="4"/><rect x="432" y="539" width="1" height="12"/><rect x="440" y="536" width="3" height="39"/><rect x="441" y="575" width="1" height="17"/><rect x="444" y="574" width="3" height="11"/><rect x="445" y="585" width="1" height="5"/><rect x="461" y="565" width="3" height="8"/><rect x="509" y="411" width="3" height="1"/><rect x="510" y="412" width="1" height="4"/><rect x="522" y="332" width="1" height="5"/><rect x="521" y="337" width="3" height="2"/><rect x="522" y="339" width="1" height="1"/><rect x="527" y="312" width="1" height="26"/><rect x="526" y="338" width="3" height="1"/><rect x="527" y="339" width="1" height="42"/><rect x="530" y="313" width="3" height="35"/><rect x="531" y="348" width="1" height="24"/><rect x="534" y="320" width="3" height="35"/><rect x="535" y="355" width="1" height="11"/><rect x="540" y="344" width="1" height="10"/><rect x="539" y="354" width="3" height="22"/><rect x="540" y="376" width="1" height="2"/><rect x="547" y="365" width="3" height="1"/><rect x="556" y="366" width="3" height="5"/><rect x="557" y="371" width="1" height="9"/><rect x="561" y="366" width="1" height="4"/><rect x="560" y="370" width="3" height="8"/><rect x="564" y="377" width="3" height="22"/><rect x="565" y="399" width="1" height="23"/><rect x="569" y="398" width="3" height="9"/><rect x="570" y="407" width="1" height="6"/><rect x="574" y="310" width="1" height="41"/><rect x="573" y="351" width="3" height="25"/><rect x="574" y="376" width="1" height="15"/><rect x="577" y="387" width="3" height="16"/><rect x="578" y="403" width="1" height="34"/><rect x="591" y="408" width="1" height="10"/><rect x="590" y="418" width="3" height="4"/><rect x="595" y="411" width="1" height="10"/><rect x="594" y="421" width="3" height="6"/><rect x="595" y="427" width="1" height="17"/><rect x="600" y="403" width="1" height="13"/><rect x="599" y="416" width="3" height="1"/><rect x="600" y="417" width="1" height="11"/><rect x="603" y="417" width="3" height="21"/><rect x="604" y="438" width="1" height="22"/><rect x="612" y="385" width="1" height="5"/><rect x="611" y="390" width="3" height="46"/><rect x="612" y="436" width="1" height="12"/><rect x="617" y="416" width="1" height="6"/><rect x="616" y="422" width="3" height="9"/><rect x="617" y="431" width="1" height="28"/><rect x="620" y="421" width="3" height="22"/><rect x="621" y="443" width="1" height="8"/><rect x="624" y="442" width="3" height="12"/><rect x="625" y="454" width="1" height="6"/><rect x="630" y="431" width="1" height="22"/><rect x="629" y="453" width="3" height="8"/><rect x="630" y="461" width="1" height="13"/><rect x="638" y="309" width="1" height="20"/><rect x="637" y="329" width="3" height="39"/><rect x="638" y="368" width="1" height="18"/><rect x="642" y="323" width="1" height="45"/><rect x="641" y="368" width="3" height="7"/><rect x="642" y="375" width="1" height="19"/><rect x="655" y="226" width="1" height="59"/><rect x="654" y="285" width="3" height="59"/><rect x="655" y="344" width="1" height="4"/><rect x="660" y="312" width="1" height="31"/><rect x="659" y="343" width="3" height="4"/><rect x="660" y="347" width="1" height="11"/><rect x="663" y="346" width="3" height="31"/><rect x="664" y="377" width="1" height="17"/><rect x="677" y="252" width="1" height="24"/><rect x="676" y="276" width="3" height="8"/><rect x="677" y="284" width="1" height="44"/><rect x="681" y="260" width="1" height="23"/><rect x="680" y="283" width="3" height="34"/><rect x="681" y="317" width="1" height="29"/><rect x="685" y="281" width="1" height="36"/><rect x="684" y="317" width="3" height="38"/><rect x="685" y="355" width="1" height="4"/><rect x="698" y="224" width="1" height="68"/><rect x="697" y="292" width="3" height="16"/><rect x="698" y="308" width="1" height="29"/><rect x="702" y="278" width="1" height="29"/><rect x="701" y="307" width="3" height="5"/><rect x="702" y="312" width="1" height="10"/><rect x="707" y="302" width="1" height="10"/><rect x="706" y="312" width="3" height="3"/><rect x="707" y="315" width="1" height="27"/><rect x="715" y="303" width="1" height="7"/><rect x="714" y="310" width="3" height="18"/><rect x="715" y="328" width="1" height="8"/><rect x="723" y="324" width="3" height="31"/><rect x="724" y="355" width="1" height="2"/><rect x="727" y="354" width="3" height="18"/><rect x="728" y="372" width="1" height="13"/><rect x="736" y="366" width="3" height="27"/><rect x="737" y="393" width="1" height="9"/><rect x="740" y="393" width="3" height="33"/><rect x="741" y="426" width="1" height="5"/><rect x="744" y="426" width="3" height="16"/><rect x="745" y="442" width="1" height="11"/><rect x="749" y="442" width="3" height="11"/><rect x="750" y="453" width="1" height="7"/><rect x="753" y="448" width="3" height="15"/><rect x="754" y="463" width="1" height="31"/><rect x="766" y="425" width="3" height="11"/><rect x="771" y="414" width="1" height="21"/><rect x="770" y="435" width="3" height="8"/><rect x="771" y="443" width="1" height="35"/><rect x="787" y="431" width="3" height="2"/><rect x="791" y="439" width="3" height="18"/><rect x="792" y="457" width="1" height="19"/><rect x="797" y="451" width="1" height="5"/><rect x="796" y="456" width="3" height="5"/><rect x="797" y="461" width="1" height="11"/><rect x="800" y="460" width="3" height="12"/><rect x="804" y="471" width="3" height="15"/><rect x="805" y="486" width="1" height="4"/><rect x="827" y="464" width="1" height="7"/><rect x="826" y="471" width="3" height="1"/><rect x="827" y="472" width="1" height="7"/><rect x="851" y="363" width="3" height="1"/><rect x="852" y="364" width="1" height="6"/><rect x="857" y="331" width="1" height="8"/><rect x="856" y="339" width="3" height="1"/><rect x="857" y="340" width="1" height="17"/><rect x="864" y="323" width="3" height="23"/><rect x="865" y="346" width="1" height="6"/><rect x="870" y="309" width="1" height="36"/><rect x="869" y="345" width="3" height="14"/><rect x="870" y="359" width="1" height="7"/><rect x="894" y="309" width="3" height="26"/><rect x="907" y="289" width="3" height="22"/><rect x="917" y="232" width="1" height="62"/><rect x="916" y="294" width="3" height="10"/><rect x="917" y="304" width="1" height="31"/><rect x="920" y="303" width="3" height="27"/><rect x="921" y="330" width="1" height="14"/><rect x="924" y="330" width="3" height="31"/><rect x="925" y="361" width="1" height="13"/><rect x="929" y="360" width="3" height="1"/><rect x="930" y="361" width="1" height="5"/><rect x="937" y="356" width="3" height="13"/><rect x="942" y="360" width="1" height="8"/><rect x="941" y="368" width="3" height="6"/><rect x="942" y="374" width="1" height="9"/><rect x="968" y="272" width="1" height="20"/><rect x="967" y="292" width="3" height="10"/><rect x="968" y="302" width="1" height="11"/><rect x="972" y="300" width="1" height="1"/><rect x="971" y="301" width="3" height="19"/><rect x="972" y="320" width="1" height="14"/><rect x="984" y="306" width="3" height="20"/><rect x="985" y="326" width="1" height="1"/><rect x="990" y="302" width="1" height="23"/><rect x="989" y="325" width="3" height="13"/><rect x="990" y="338" width="1" height="5"/><rect x="997" y="338" width="3" height="22"/><rect x="998" y="360" width="1" height="26"/><rect x="1006" y="357" width="3" height="3"/><rect x="1024" y="326" width="1" height="1"/><rect x="1023" y="327" width="3" height="7"/><rect x="1024" y="334" width="1" height="15"/><rect x="1028" y="333" width="1" height="1"/><rect x="1027" y="334" width="3" height="6"/><rect x="1028" y="340" width="1" height="13"/><rect x="1054" y="211" width="1" height="34"/><rect x="1053" y="245" width="3" height="31"/><rect x="1054" y="276" width="1" height="30"/><rect x="1058" y="252" width="1" height="11"/><rect x="1057" y="263" width="3" height="12"/><rect x="1058" y="275" width="1" height="21"/><rect x="1062" y="274" width="3" height="14"/><rect x="1063" y="288" width="1" height="9"/><rect x="1066" y="288" width="3" height="10"/><rect x="1067" y="298" width="1" height="8"/><rect x="1070" y="297" width="3" height="39"/><rect x="1071" y="336" width="1" height="11"/><rect x="1079" y="324" width="3" height="18"/><rect x="1080" y="342" width="1" height="8"/><rect x="1087" y="337" width="3" height="12"/><rect x="1088" y="349" width="1" height="11"/><rect x="1093" y="368" width="1" height="3"/><rect x="1092" y="371" width="3" height="7"/><rect x="1093" y="378" width="1" height="3"/><rect x="1096" y="377" width="3" height="37"/><rect x="1097" y="414" width="1" height="5"/><rect x="1100" y="414" width="3" height="16"/><rect x="1101" y="430" width="1" height="9"/><rect x="1104" y="430" width="3" height="1"/><rect x="1117" y="398" width="3" height="9"/><rect x="1122" y="407" width="3" height="10"/><rect x="1126" y="416" width="3" height="16"/><rect x="1127" y="432" width="1" height="1"/><rect x="1130" y="431" width="3" height="7"/><rect x="1131" y="438" width="1" height="8"/><rect x="1135" y="448" width="1" height="3"/><rect x="1134" y="451" width="3" height="10"/><rect x="1135" y="461" width="1" height="12"/><rect x="1140" y="456" width="1" height="12"/><rect x="1139" y="468" width="3" height="3"/><rect x="1140" y="471" width="1" height="27"/><rect x="1147" y="469" width="3" height="7"/><rect x="1156" y="474" width="3" height="6"/><rect x="1161" y="476" width="1" height="3"/><rect x="1160" y="479" width="3" height="5"/><rect x="1161" y="484" width="1" height="1"/><rect x="1174" y="485" width="1" height="1"/><rect x="1173" y="486" width="3" height="1"/><rect x="1174" y="487" width="1" height="6"/><rect x="1178" y="485" width="1" height="2"/><rect x="1177" y="487" width="3" height="13"/><rect x="1194" y="485" width="3" height="9"/><rect x="1199" y="468" width="3" height="15"/><rect x="1204" y="477" width="1" height="5"/><rect x="1203" y="482" width="3" height="6"/><rect x="1204" y="488" width="1" height="19"/><rect x="1207" y="487" width="3" height="6"/><rect x="1224" y="500" width="3" height="7"/><rect x="1225" y="507" width="1" height="3"/><rect x="1229" y="506" width="3" height="6"/><rect x="1230" y="512" width="1" height="4"/><rect x="1233" y="511" width="3" height="8"/><rect x="1237" y="519" width="3" height="10"/><rect x="1238" y="529" width="1" height="4"/><rect x="1243" y="527" width="1" height="1"/><rect x="1242" y="528" width="3" height="13"/><rect x="1243" y="541" width="1" height="3"/><rect x="1247" y="526" width="1" height="7"/><rect x="1246" y="533" width="3" height="1"/><rect x="1247" y="534" width="1" height="6"/><rect x="1259" y="532" width="3" height="12"/><rect x="1260" y="544" width="1" height="1"/><rect x="1264" y="541" width="1" height="2"/><rect x="1263" y="543" width="3" height="12"/><rect x="1267" y="554" width="3" height="8"/><rect x="1272" y="561" width="3" height="4"/><rect x="1276" y="564" width="3" height="12"/><rect x="1277" y="576" width="1" height="25"/><rect x="1284" y="569" width="3" height="1"/><rect x="1285" y="570" width="1" height="8"/><rect x="1289" y="571" width="3" height="1"/><rect x="1293" y="571" width="3" height="10"/><rect x="1294" y="581" width="1" height="3"/><rect x="1298" y="579" width="1" height="1"/><rect x="1297" y="580" width="3" height="1"/><rect x="1298" y="581" width="1" height="9"/><rect x="1303" y="580" width="1" height="1"/><rect x="1302" y="581" width="3" height="5"/><rect x="1303" y="586" width="1" height="4"/><rect x="1306" y="586" width="3" height="21"/><rect x="1307" y="607" width="1" height="7"/><rect x="1310" y="606" width="3" height="18"/><rect x="1311" y="624" width="1" height="5"/><rect x="1314" y="623" width="3" height="22"/><rect x="1315" y="645" width="1" height="10"/><rect x="1328" y="587" width="1" height="11"/><rect x="1327" y="598" width="3" height="4"/><rect x="1328" y="602" width="1" height="25"/><rect x="1332" y="601" width="3" height="3"/><rect x="1333" y="604" width="1" height="13"/><rect x="1341" y="577" width="1" height="5"/><rect x="1340" y="582" width="3" height="3"/><rect x="1341" y="585" width="1" height="11"/><rect x="1344" y="579" width="3" height="10"/><rect x="1362" y="565" width="3" height="1"/><rect x="1363" y="566" width="1" height="3"/><rect x="1371" y="564" width="1" height="6"/><rect x="1370" y="570" width="3" height="5"/><rect x="1371" y="575" width="1" height="12"/><rect x="1374" y="574" width="3" height="14"/><rect x="1375" y="588" width="1" height="5"/><rect x="1380" y="573" width="1" height="14"/><rect x="1379" y="587" width="3" height="7"/><rect x="1380" y="594" width="1" height="4"/><rect x="1392" y="564" width="3" height="17"/><rect x="1397" y="579" width="1" height="1"/><rect x="1396" y="580" width="3" height="1"/><rect x="1397" y="581" width="1" height="5"/><rect x="1400" y="580" width="3" height="10"/><rect x="1401" y="590" width="1" height="3"/><rect x="1414" y="525" width="1" height="19"/><rect x="1413" y="544" width="3" height="10"/><rect x="1414" y="554" width="1" height="3"/><rect x="1418" y="549" width="1" height="4"/><rect x="1417" y="553" width="3" height="4"/><rect x="1418" y="557" width="1" height="2"/><rect x="1422" y="549" width="3" height="13"/><rect x="1423" y="562" width="1" height="2"/><rect x="1431" y="513" width="1" height="12"/><rect x="1430" y="525" width="3" height="10"/><rect x="1435" y="532" width="1" height="2"/><rect x="1434" y="534" width="3" height="6"/><rect x="1435" y="540" width="1" height="7"/><rect x="1440" y="519" width="1" height="20"/><rect x="1439" y="539" width="3" height="10"/><rect x="1443" y="548" width="3" height="5"/><rect x="1444" y="553" width="1" height="6"/><rect x="1448" y="547" width="1" height="5"/><rect x="1447" y="552" width="3" height="5"/><rect x="1452" y="556" width="3" height="26"/><rect x="1453" y="582" width="1" height="4"/><rect x="1457" y="574" width="1" height="13"/><rect x="1456" y="587" width="3" height="2"/><rect x="1457" y="589" width="1" height="9"/><rect x="1460" y="589" width="3" height="29"/><rect x="1461" y="618" width="1" height="16"/><rect x="1470" y="612" width="1" height="1"/><rect x="1469" y="613" width="3" height="4"/><rect x="1470" y="617" width="1" height="10"/><rect x="1474" y="607" width="1" height="10"/><rect x="1473" y="617" width="3" height="6"/><rect x="1478" y="616" width="1" height="6"/><rect x="1477" y="622" width="3" height="6"/><rect x="1482" y="631" width="3" height="17"/><rect x="1483" y="648" width="1" height="9"/><rect x="1490" y="635" width="3" height="21"/><rect x="1500" y="622" width="1" height="8"/><rect x="1499" y="630" width="3" height="1"/><rect x="1500" y="631" width="1" height="14"/><rect x="1504" y="627" width="1" height="4"/><rect x="1503" y="631" width="3" height="33"/><rect x="1504" y="664" width="1" height="4"/><rect x="1508" y="664" width="1" height="3"/><rect x="1507" y="667" width="3" height="14"/><rect x="1508" y="681" width="1" height="5"/><rect x="1512" y="680" width="3" height="11"/><rect x="1521" y="684" width="1" height="2"/><rect x="1520" y="686" width="3" height="12"/><rect x="1521" y="698" width="1" height="10"/><rect x="1525" y="686" width="1" height="11"/><rect x="1524" y="697" width="3" height="13"/><rect x="1530" y="705" width="1" height="6"/><rect x="1529" y="711" width="3" height="6"/><rect x="1530" y="717" width="1" height="3"/><rect x="1543" y="692" width="1" height="12"/><rect x="1542" y="704" width="3" height="10"/><rect x="1543" y="714" width="1" height="1"/><rect x="1554" y="704" width="3" height="1"/><rect x="1555" y="705" width="1" height="2"/><rect x="1564" y="701" width="1" height="7"/><rect x="1563" y="708" width="3" height="8"/><rect x="1564" y="716" width="1" height="4"/><rect x="1573" y="709" width="1" height="2"/><rect x="1572" y="711" width="3" height="5"/><rect x="1573" y="716" width="1" height="3"/><rect x="1580" y="710" width="3" height="13"/><rect x="1581" y="723" width="1" height="3"/><rect x="1590" y="712" width="1" height="3"/><rect x="1589" y="715" width="3" height="1"/><rect x="1593" y="715" width="3" height="10"/><rect x="1594" y="725" width="1" height="4"/><rect x="1597" y="714" width="3" height="14"/><rect x="1598" y="728" width="1" height="2"/><rect x="1602" y="727" width="3" height="5"/><rect x="1603" y="732" width="1" height="1"/><rect x="1611" y="723" width="1" height="4"/><rect x="1610" y="727" width="3" height="10"/><rect x="1611" y="737" width="1" height="1"/><rect x="1623" y="732" width="3" height="4"/><rect x="1645" y="713" width="1" height="14"/><rect x="1644" y="727" width="3" height="6"/><rect x="1650" y="729" width="1" height="2"/><rect x="1649" y="731" width="3" height="7"/><rect x="1650" y="738" width="1" height="8"/><rect x="1666" y="734" width="3" height="7"/><rect x="1670" y="740" width="3" height="7"/><rect x="1674" y="746" width="3" height="6"/><rect x="1675" y="752" width="1" height="2"/><rect x="1679" y="751" width="3" height="5"/><rect x="1684" y="743" width="1" height="12"/><rect x="1683" y="755" width="3" height="2"/><rect x="1684" y="757" width="1" height="2"/><rect x="1697" y="669" width="1" height="2"/><rect x="1696" y="671" width="3" height="21"/><rect x="1697" y="692" width="1" height="9"/><rect x="1705" y="681" width="1" height="3"/><rect x="1704" y="684" width="3" height="6"/><rect x="1705" y="690" width="1" height="13"/><rect x="1714" y="668" width="1" height="1"/><rect x="1713" y="669" width="3" height="6"/><rect x="1714" y="675" width="1" height="1"/></g><g shape-rendering="crispEdges" fill="#04291f"><rect x="25" y="252" width="1" height="5"/><rect x="24" y="257" width="3" height="8"/><rect x="30" y="218" width="1" height="9"/><rect x="29" y="227" width="3" height="31"/><rect x="34" y="195" width="1" height="25"/><rect x="33" y="220" width="3" height="8"/><rect x="34" y="228" width="1" height="1"/><rect x="37" y="206" width="3" height="15"/><rect x="50" y="234" width="3" height="7"/><rect x="55" y="226" width="1" height="6"/><rect x="54" y="232" width="3" height="3"/><rect x="55" y="235" width="1" height="3"/><rect x="64" y="226" width="1" height="3"/><rect x="63" y="229" width="3" height="5"/><rect x="71" y="225" width="3" height="1"/><rect x="77" y="226" width="1" height="22"/><rect x="76" y="248" width="3" height="1"/><rect x="77" y="249" width="1" height="8"/><rect x="89" y="291" width="3" height="13"/><rect x="97" y="304" width="3" height="1"/><rect x="111" y="331" width="1" height="1"/><rect x="110" y="332" width="3" height="8"/><rect x="119" y="359" width="3" height="1"/><rect x="124" y="352" width="1" height="1"/><rect x="123" y="353" width="3" height="7"/><rect x="128" y="347" width="1" height="3"/><rect x="127" y="350" width="3" height="4"/><rect x="144" y="396" width="3" height="7"/><rect x="158" y="451" width="1" height="2"/><rect x="157" y="453" width="3" height="3"/><rect x="161" y="449" width="3" height="6"/><rect x="167" y="423" width="1" height="9"/><rect x="166" y="432" width="3" height="10"/><rect x="170" y="417" width="3" height="16"/><rect x="175" y="402" width="1" height="4"/><rect x="174" y="406" width="3" height="12"/><rect x="180" y="397" width="1" height="1"/><rect x="179" y="398" width="3" height="9"/><rect x="192" y="412" width="1" height="3"/><rect x="191" y="415" width="3" height="4"/><rect x="204" y="417" width="3" height="3"/><rect x="230" y="497" width="3" height="8"/><rect x="235" y="478" width="1" height="18"/><rect x="234" y="496" width="3" height="3"/><rect x="235" y="499" width="1" height="21"/><rect x="248" y="492" width="1" height="14"/><rect x="247" y="506" width="3" height="10"/><rect x="290" y="586" width="3" height="11"/><rect x="312" y="601" width="1" height="5"/><rect x="311" y="606" width="3" height="6"/><rect x="317" y="598" width="1" height="7"/><rect x="316" y="605" width="3" height="2"/><rect x="317" y="607" width="1" height="14"/><rect x="320" y="593" width="3" height="3"/><rect x="324" y="593" width="3" height="1"/><rect x="341" y="602" width="3" height="7"/><rect x="347" y="598" width="1" height="3"/><rect x="346" y="601" width="3" height="2"/><rect x="355" y="602" width="1" height="2"/><rect x="354" y="604" width="3" height="7"/><rect x="364" y="595" width="1" height="10"/><rect x="363" y="605" width="3" height="1"/><rect x="372" y="599" width="1" height="9"/><rect x="371" y="608" width="3" height="3"/><rect x="372" y="611" width="1" height="2"/><rect x="394" y="645" width="1" height="3"/><rect x="393" y="648" width="3" height="2"/><rect x="401" y="660" width="3" height="2"/><rect x="407" y="621" width="1" height="12"/><rect x="406" y="633" width="3" height="27"/><rect x="411" y="434" width="1" height="95"/><rect x="410" y="529" width="3" height="104"/><rect x="411" y="633" width="1" height="2"/><rect x="415" y="366" width="1" height="87"/><rect x="414" y="453" width="3" height="60"/><rect x="436" y="542" width="3" height="9"/><rect x="450" y="553" width="1" height="31"/><rect x="449" y="584" width="3" height="1"/><rect x="450" y="585" width="1" height="8"/><rect x="454" y="556" width="1" height="20"/><rect x="453" y="576" width="3" height="9"/><rect x="458" y="542" width="1" height="23"/><rect x="457" y="565" width="3" height="12"/><rect x="458" y="577" width="1" height="6"/><rect x="467" y="547" width="1" height="24"/><rect x="466" y="571" width="3" height="1"/><rect x="467" y="572" width="1" height="18"/><rect x="471" y="556" width="1" height="7"/><rect x="470" y="563" width="3" height="9"/><rect x="475" y="543" width="1" height="12"/><rect x="474" y="555" width="3" height="9"/><rect x="480" y="534" width="1" height="11"/><rect x="479" y="545" width="3" height="11"/><rect x="484" y="515" width="1" height="6"/><rect x="483" y="521" width="3" height="25"/><rect x="488" y="485" width="1" height="10"/><rect x="487" y="495" width="3" height="27"/><rect x="492" y="442" width="1" height="2"/><rect x="491" y="444" width="3" height="51"/><rect x="497" y="427" width="1" height="10"/><rect x="496" y="437" width="3" height="8"/><rect x="497" y="445" width="1" height="6"/><rect x="501" y="422" width="1" height="9"/><rect x="500" y="431" width="3" height="7"/><rect x="505" y="400" width="1" height="11"/><rect x="504" y="411" width="3" height="21"/><rect x="514" y="394" width="1" height="2"/><rect x="513" y="396" width="3" height="17"/><rect x="518" y="308" width="1" height="29"/><rect x="517" y="337" width="3" height="60"/><rect x="544" y="341" width="1" height="24"/><rect x="543" y="365" width="3" height="11"/><rect x="551" y="366" width="3" height="1"/><rect x="582" y="397" width="1" height="21"/><rect x="581" y="418" width="3" height="1"/><rect x="582" y="419" width="1" height="1"/><rect x="586" y="418" width="3" height="1"/><rect x="608" y="351" width="1" height="39"/><rect x="607" y="390" width="3" height="5"/><rect x="608" y="395" width="1" height="19"/><rect x="634" y="313" width="1" height="35"/><rect x="633" y="348" width="3" height="90"/><rect x="647" y="323" width="1" height="21"/><rect x="646" y="344" width="3" height="31"/><rect x="647" y="375" width="1" height="19"/><rect x="651" y="196" width="1" height="89"/><rect x="650" y="285" width="3" height="48"/><rect x="651" y="333" width="1" height="42"/><rect x="668" y="293" width="1" height="25"/><rect x="667" y="318" width="3" height="53"/><rect x="668" y="371" width="1" height="22"/><rect x="672" y="196" width="1" height="59"/><rect x="671" y="255" width="3" height="64"/><rect x="690" y="307" width="1" height="10"/><rect x="689" y="317" width="3" height="31"/><rect x="694" y="207" width="1" height="85"/><rect x="693" y="292" width="3" height="25"/><rect x="694" y="317" width="1" height="17"/><rect x="711" y="301" width="1" height="9"/><rect x="710" y="310" width="3" height="5"/><rect x="720" y="322" width="1" height="2"/><rect x="719" y="324" width="3" height="4"/><rect x="720" y="328" width="1" height="8"/><rect x="731" y="366" width="3" height="1"/><rect x="758" y="435" width="1" height="24"/><rect x="757" y="459" width="3" height="4"/><rect x="758" y="463" width="1" height="1"/><rect x="762" y="422" width="1" height="8"/><rect x="761" y="430" width="3" height="20"/><rect x="775" y="437" width="1" height="38"/><rect x="774" y="475" width="3" height="7"/><rect x="780" y="434" width="1" height="13"/><rect x="779" y="447" width="3" height="13"/><rect x="780" y="460" width="1" height="14"/><rect x="784" y="428" width="1" height="5"/><rect x="783" y="433" width="3" height="15"/><rect x="810" y="481" width="1" height="11"/><rect x="809" y="492" width="3" height="2"/><rect x="810" y="494" width="1" height="4"/><rect x="814" y="464" width="1" height="15"/><rect x="813" y="479" width="3" height="14"/><rect x="818" y="471" width="1" height="2"/><rect x="817" y="473" width="3" height="6"/><rect x="821" y="471" width="3" height="2"/><rect x="831" y="457" width="1" height="10"/><rect x="830" y="467" width="3" height="5"/><rect x="835" y="423" width="1" height="15"/><rect x="834" y="438" width="3" height="24"/><rect x="835" y="462" width="1" height="7"/><rect x="840" y="385" width="1" height="5"/><rect x="839" y="390" width="3" height="48"/><rect x="844" y="371" width="1" height="10"/><rect x="843" y="381" width="3" height="10"/><rect x="844" y="391" width="1" height="22"/><rect x="848" y="343" width="1" height="34"/><rect x="847" y="377" width="3" height="5"/><rect x="848" y="382" width="1" height="11"/><rect x="861" y="324" width="1" height="14"/><rect x="860" y="338" width="3" height="1"/><rect x="861" y="339" width="1" height="13"/><rect x="874" y="341" width="1" height="2"/><rect x="873" y="343" width="3" height="23"/><rect x="878" y="328" width="1" height="22"/><rect x="877" y="350" width="3" height="9"/><rect x="882" y="312" width="1" height="15"/><rect x="881" y="327" width="3" height="23"/><rect x="887" y="316" width="1" height="6"/><rect x="886" y="322" width="3" height="6"/><rect x="887" y="328" width="1" height="9"/><rect x="890" y="309" width="3" height="1"/><rect x="900" y="255" width="1" height="55"/><rect x="899" y="310" width="3" height="25"/><rect x="904" y="270" width="1" height="19"/><rect x="903" y="289" width="3" height="22"/><rect x="904" y="311" width="1" height="26"/><rect x="912" y="291" width="1" height="3"/><rect x="911" y="294" width="3" height="17"/><rect x="934" y="337" width="1" height="19"/><rect x="933" y="356" width="3" height="6"/><rect x="934" y="362" width="1" height="4"/><rect x="947" y="328" width="1" height="20"/><rect x="946" y="348" width="3" height="30"/><rect x="951" y="331" width="1" height="10"/><rect x="950" y="341" width="3" height="8"/><rect x="955" y="314" width="1" height="13"/><rect x="954" y="327" width="3" height="15"/><rect x="960" y="316" width="1" height="6"/><rect x="959" y="322" width="3" height="6"/><rect x="964" y="309" width="1" height="5"/><rect x="963" y="314" width="3" height="9"/><rect x="964" y="323" width="1" height="48"/><rect x="976" y="317" width="3" height="3"/><rect x="981" y="293" width="1" height="13"/><rect x="980" y="306" width="3" height="12"/><rect x="993" y="338" width="3" height="1"/><rect x="1002" y="334" width="1" height="23"/><rect x="1001" y="357" width="3" height="3"/><rect x="1002" y="360" width="1" height="5"/><rect x="1011" y="333" width="1" height="24"/><rect x="1010" y="357" width="3" height="4"/><rect x="1011" y="361" width="1" height="21"/><rect x="1015" y="301" width="1" height="27"/><rect x="1014" y="328" width="3" height="30"/><rect x="1015" y="358" width="1" height="21"/><rect x="1020" y="297" width="1" height="30"/><rect x="1019" y="327" width="3" height="1"/><rect x="1020" y="328" width="1" height="27"/><rect x="1032" y="306" width="1" height="2"/><rect x="1031" y="308" width="3" height="20"/><rect x="1037" y="241" width="1" height="30"/><rect x="1036" y="271" width="3" height="37"/><rect x="1037" y="308" width="1" height="5"/><rect x="1041" y="232" width="1" height="36"/><rect x="1040" y="268" width="3" height="4"/><rect x="1041" y="272" width="1" height="8"/><rect x="1045" y="224" width="1" height="20"/><rect x="1044" y="244" width="3" height="25"/><rect x="1050" y="153" width="1" height="92"/><rect x="1049" y="245" width="3" height="1"/><rect x="1050" y="246" width="1" height="29"/><rect x="1074" y="324" width="3" height="12"/><rect x="1075" y="336" width="1" height="11"/><rect x="1084" y="331" width="1" height="7"/><rect x="1083" y="338" width="3" height="4"/><rect x="1084" y="342" width="1" height="20"/><rect x="1110" y="394" width="1" height="17"/><rect x="1109" y="411" width="3" height="19"/><rect x="1110" y="430" width="1" height="9"/><rect x="1114" y="387" width="1" height="11"/><rect x="1113" y="398" width="3" height="13"/><rect x="1144" y="454" width="1" height="15"/><rect x="1143" y="469" width="3" height="4"/><rect x="1144" y="473" width="1" height="5"/><rect x="1153" y="467" width="1" height="7"/><rect x="1152" y="474" width="3" height="1"/><rect x="1165" y="467" width="1" height="20"/><rect x="1164" y="487" width="3" height="1"/><rect x="1165" y="488" width="1" height="19"/><rect x="1170" y="482" width="1" height="4"/><rect x="1169" y="486" width="3" height="8"/><rect x="1183" y="495" width="1" height="1"/><rect x="1182" y="496" width="3" height="4"/><rect x="1187" y="480" width="1" height="14"/><rect x="1186" y="494" width="3" height="3"/><rect x="1191" y="472" width="1" height="13"/><rect x="1190" y="485" width="3" height="1"/><rect x="1191" y="486" width="1" height="5"/><rect x="1213" y="480" width="1" height="12"/><rect x="1212" y="492" width="3" height="5"/><rect x="1213" y="497" width="1" height="11"/><rect x="1217" y="492" width="1" height="18"/><rect x="1216" y="510" width="3" height="11"/><rect x="1221" y="479" width="1" height="23"/><rect x="1220" y="502" width="3" height="8"/><rect x="1250" y="532" width="3" height="2"/><rect x="1255" y="526" width="1" height="6"/><rect x="1254" y="532" width="3" height="1"/><rect x="1281" y="564" width="1" height="5"/><rect x="1280" y="569" width="3" height="7"/><rect x="1320" y="625" width="1" height="13"/><rect x="1319" y="638" width="3" height="6"/><rect x="1320" y="644" width="1" height="4"/><rect x="1324" y="597" width="1" height="6"/><rect x="1323" y="603" width="3" height="36"/><rect x="1324" y="639" width="1" height="16"/><rect x="1337" y="579" width="1" height="3"/><rect x="1336" y="582" width="3" height="29"/><rect x="1337" y="611" width="1" height="3"/><rect x="1350" y="577" width="1" height="6"/><rect x="1349" y="583" width="3" height="5"/><rect x="1350" y="588" width="1" height="5"/><rect x="1354" y="577" width="1" height="6"/><rect x="1353" y="583" width="3" height="1"/><rect x="1354" y="584" width="1" height="10"/><rect x="1358" y="562" width="1" height="2"/><rect x="1357" y="564" width="3" height="20"/><rect x="1367" y="565" width="1" height="5"/><rect x="1366" y="570" width="3" height="1"/><rect x="1384" y="579" width="1" height="8"/><rect x="1383" y="587" width="3" height="13"/><rect x="1388" y="559" width="1" height="5"/><rect x="1387" y="564" width="3" height="24"/><rect x="1388" y="588" width="1" height="13"/><rect x="1405" y="568" width="1" height="5"/><rect x="1404" y="573" width="3" height="16"/><rect x="1405" y="589" width="1" height="4"/><rect x="1410" y="567" width="1" height="4"/><rect x="1409" y="571" width="3" height="9"/><rect x="1410" y="580" width="1" height="4"/><rect x="1427" y="533" width="1" height="5"/><rect x="1426" y="538" width="3" height="23"/><rect x="1427" y="561" width="1" height="14"/><rect x="1465" y="591" width="1" height="24"/><rect x="1464" y="615" width="3" height="3"/><rect x="1465" y="618" width="1" height="16"/><rect x="1487" y="630" width="1" height="5"/><rect x="1486" y="635" width="3" height="12"/><rect x="1487" y="647" width="1" height="5"/><rect x="1495" y="636" width="1" height="4"/><rect x="1494" y="640" width="3" height="23"/><rect x="1495" y="663" width="1" height="14"/><rect x="1517" y="678" width="1" height="5"/><rect x="1516" y="683" width="3" height="8"/><rect x="1534" y="707" width="1" height="5"/><rect x="1533" y="712" width="3" height="5"/><rect x="1534" y="717" width="1" height="6"/><rect x="1538" y="695" width="1" height="9"/><rect x="1537" y="704" width="3" height="9"/><rect x="1547" y="701" width="1" height="7"/><rect x="1546" y="708" width="3" height="12"/><rect x="1551" y="689" width="1" height="15"/><rect x="1550" y="704" width="3" height="5"/><rect x="1560" y="701" width="1" height="7"/><rect x="1559" y="708" width="3" height="1"/><rect x="1568" y="706" width="1" height="5"/><rect x="1567" y="711" width="3" height="5"/><rect x="1568" y="716" width="1" height="2"/><rect x="1577" y="695" width="1" height="15"/><rect x="1576" y="710" width="3" height="3"/><rect x="1577" y="713" width="1" height="6"/><rect x="1585" y="706" width="1" height="9"/><rect x="1584" y="715" width="3" height="8"/><rect x="1607" y="719" width="1" height="8"/><rect x="1606" y="727" width="3" height="5"/><rect x="1615" y="718" width="1" height="14"/><rect x="1614" y="732" width="3" height="4"/><rect x="1620" y="721" width="1" height="11"/><rect x="1619" y="732" width="3" height="1"/><rect x="1620" y="733" width="1" height="1"/><rect x="1628" y="722" width="1" height="12"/><rect x="1627" y="734" width="3" height="2"/><rect x="1628" y="736" width="1" height="4"/><rect x="1633" y="733" width="1" height="1"/><rect x="1632" y="734" width="3" height="1"/><rect x="1633" y="735" width="1" height="4"/><rect x="1637" y="712" width="1" height="19"/><rect x="1636" y="731" width="3" height="10"/><rect x="1637" y="741" width="1" height="2"/><rect x="1641" y="725" width="1" height="2"/><rect x="1640" y="727" width="3" height="2"/><rect x="1641" y="729" width="1" height="6"/><rect x="1654" y="734" width="1" height="6"/><rect x="1653" y="740" width="3" height="1"/><rect x="1658" y="739" width="1" height="2"/><rect x="1657" y="741" width="3" height="5"/><rect x="1663" y="728" width="1" height="6"/><rect x="1662" y="734" width="3" height="8"/><rect x="1687" y="706" width="3" height="18"/><rect x="1688" y="724" width="1" height="11"/><rect x="1693" y="670" width="1" height="1"/><rect x="1692" y="671" width="3" height="24"/><rect x="1693" y="695" width="1" height="7"/><rect x="1701" y="681" width="1" height="7"/><rect x="1700" y="688" width="3" height="4"/><rect x="1701" y="692" width="1" height="6"/><rect x="1710" y="655" width="1" height="13"/><rect x="1709" y="668" width="3" height="22"/><rect x="1710" y="690" width="1" height="2"/></g><rect x="166.84" y="843.6" width="17.8" height="16.8" rx="2.5" fill="#fff" stroke="#4d4d4d" stroke-width="1.7"/><text x="175.7394" y="857" text-anchor="middle" font-family="'Liberation Sans', Arial, sans-serif" font-weight="bold" font-size="12" fill="#4a4a4a">E</text><rect x="736.92" y="843.6" width="17.8" height="16.8" rx="2.5" fill="#fff" stroke="#4d4d4d" stroke-width="1.7"/><text x="745.8172999999999" y="857" text-anchor="middle" font-family="'Liberation Sans', Arial, sans-serif" font-weight="bold" font-size="12" fill="#4a4a4a">E</text><rect x="1062.68" y="843.6" width="17.8" height="16.8" rx="2.5" fill="#fff" stroke="#4d4d4d" stroke-width="1.7"/><text x="1071.5760999999998" y="857" text-anchor="middle" font-family="'Liberation Sans', Arial, sans-serif" font-weight="bold" font-size="12" fill="#4a4a4a">E</text><rect x="1654.19" y="843.6" width="17.8" height="16.8" rx="2.5" fill="#fff" stroke="#4d4d4d" stroke-width="1.7"/><text x="1663.0855" y="857" text-anchor="middle" font-family="'Liberation Sans', Arial, sans-serif" font-weight="bold" font-size="12" fill="#4a4a4a">E</text><g font-family="'Liberation Sans', Arial, sans-serif" font-size="12" fill="#131722"><text x="1768" y="84.85">2,800</text><text x="1768" y="141.69">2,600</text><text x="1768" y="198.53">2,400</text><text x="1768" y="255.37">2,200</text><text x="1768" y="312.21">2,000</text><text x="1768" y="369.05">1,800</text><text x="1768" y="425.89">1,600</text><text x="1768" y="482.73">1,400</text><text x="1768" y="539.57">1,200</text><text x="1768" y="596.41">1,000.0</text><text x="1768" y="653.25">800.0</text><text x="1768" y="710.09">600.0</text><text x="1768" y="766.93">400.0</text><text x="1768" y="823.77">200.0</text></g><g font-family="'Liberation Sans', Arial, sans-serif" font-size="12" fill="#131722" text-anchor="middle"><text x="60.5" y="883">Jul</text><text x="141.5" y="883">Aug</text><text x="214.5" y="883">Sep</text><text x="347.5" y="883">Nov</text><text x="488.5" y="883" font-weight="bold">2025</text><text x="582.5" y="883">Feb</text><text x="668.5" y="883">Mar</text><text x="758.5" y="883">Apr</text><text x="835.5" y="883">May</text><text x="917.5" y="883">Jun</text><text x="977.5" y="883">Jul</text><text x="1050.5" y="883">Aug</text><text x="1127.5" y="883">Sep</text><text x="1200.5" y="883">Oct</text><text x="1251.5" y="883">Nov</text><text x="1307.5" y="883">Dec</text><text x="1405.5" y="883" font-weight="bold">2026</text><text x="1495.5" y="883">Feb</text><text x="1577.5" y="883">Mar</text><text x="1667.5" y="883">Apr</text><text x="1735.5" y="883">May</text></g><path d="M1760,518H1800.5Q1802.5,518 1802.5,520V533Q1802.5,535 1800.5,535H1760Z" fill="#f57c00"/><text x="1768" y="530.2" font-family="'Liberation Sans', Arial, sans-serif" font-size="12" fill="#fff">1,234</text><path d="M1760,666.3H1818Q1820,666.3 1820,668.3V694.8Q1820,696.8 1818,696.8H1760Z" fill="#f23645"/><text x="1768" y="678.7" font-family="'Liberation Sans', Arial, sans-serif" font-size="12" fill="#fff">715.0</text><text x="1768" y="692.7" font-family="'Liberation Sans', Arial, sans-serif" font-size="12" fill="#fff" fill-opacity="0.8">03:30:04</text><path d="M1760,708H1801Q1803,708 1803,710V723Q1803,725 1801,725H1760Z" fill="#2196f3"/><text x="1768" y="720.4" font-family="'Liberation Sans', Arial, sans-serif" font-size="12" fill="#fff">567.1</text><path d="M1760,849H1804Q1806,849 1806,851V862.5Q1806,864.5 1804,864.5H1760Z" fill="#ef5350"/><text x="1768" y="861.2" font-family="'Liberation Sans', Arial, sans-serif" font-size="12" fill="#fff">7.47 K</text><g font-family="'Liberation Sans', Arial, sans-serif" font-size="12"><text x="18.5" y="45.7" fill="#131722" textLength="113.8" lengthAdjust="spacingAndGlyphs">Buff Technologies Ltd</text><text x="138.8" y="45.7" fill="#131722" font-weight="bold" text-anchor="middle">·</text><text x="145.4" y="45.7" fill="#131722" textLength="13" lengthAdjust="spacingAndGlyphs">1D</text><text x="164.9" y="45.7" fill="#131722" font-weight="bold" text-anchor="middle">·</text><text x="172.2" y="45.7" fill="#131722" textLength="22.2" lengthAdjust="spacingAndGlyphs">TASE</text><text x="203" y="45.7" fill="#131722">O</text><text x="211.4" y="45.7" fill="#f23645" textLength="28.1" lengthAdjust="spacingAndGlyphs">730.0</text><text x="247.8" y="45.7" fill="#131722">H</text><text x="255.4" y="45.7" fill="#f23645" textLength="29.1" lengthAdjust="spacingAndGlyphs">735.0</text><text x="293" y="45.7" fill="#131722">L</text><text x="298.2" y="45.7" fill="#f23645" textLength="28.8" lengthAdjust="spacingAndGlyphs">707.0</text><text x="335.2" y="45.7" fill="#131722">C</text><text x="342.7" y="45.7" fill="#f23645" textLength="28.7" lengthAdjust="spacingAndGlyphs">715.0</text><text x="379.7" y="45.7" fill="#f23645" textLength="77.4" lengthAdjust="spacingAndGlyphs">−19.0 (−2.59%)</text></g><g font-family="'Liberation Sans', Arial, sans-serif" font-size="13" fill="#131722" stroke="#131722" stroke-width="0.15"><text x="10.4" y="18.9" textLength="124.7" lengthAdjust="spacingAndGlyphs">polarb3a7 created with</text><text x="140.9" y="18.9" textLength="92.1" lengthAdjust="spacingAndGlyphs">TradingView.com,</text><text x="237.9" y="18.9" textLength="66.5" lengthAdjust="spacingAndGlyphs">Apr 24, 2026</text><text x="309.3" y="18.9" textLength="66.7" lengthAdjust="spacingAndGlyphs">10:49 UTC+3</text></g><g fill="#131722"><path d="M11.9 914.8H23.6V930H17.75V920.7H11.9Z"/><circle cx="29" cy="918.2" r="2.6"/><path d="M33.6 914.8H41.8L36.4 930H29.2Z"/></g><text x="49.1" y="930" font-family="'Liberation Sans', Arial, sans-serif" font-weight="bold" font-size="20.5" fill="#131722" textLength="120.7" lengthAdjust="spacingAndGlyphs">TradingView</text></svg>
</body></html>
